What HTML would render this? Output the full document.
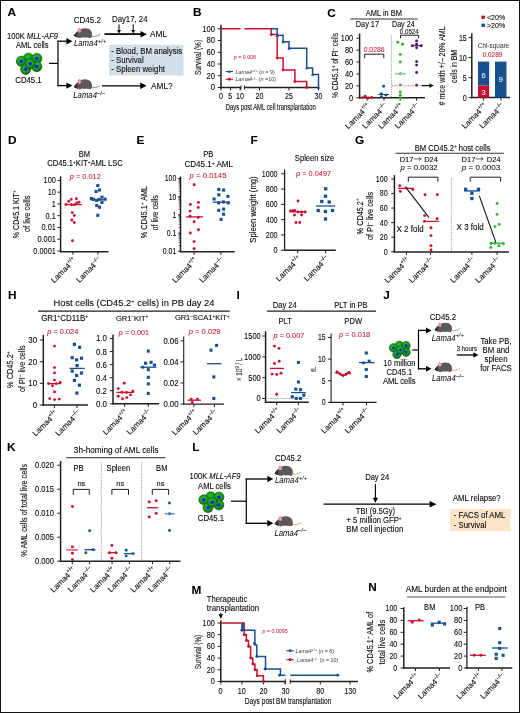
<!DOCTYPE html>
<html><head><meta charset="utf-8"><style>
html,body{margin:0;padding:0;background:#fff;}
body{width:520px;height:713px;overflow:hidden;position:relative;}
svg{display:block;position:absolute;left:0;top:0;will-change:transform;}
text{stroke:#231f20;stroke-width:0.1px;}
text[font-style="italic"]{stroke-width:0;}
text[fill="#c8102e"]{stroke:#c8102e;}
text[fill="#fff"]{stroke:#fff;}
text[fill="#000"]{stroke:#000;}
text[fill="#444"]{stroke:#444;}
.frame{position:absolute;left:0;top:0;width:518px;height:711px;border:1px solid #111;}
</style></head><body>
<svg width="520" height="713" viewBox="0 0 520 713" font-family='"Liberation Sans", sans-serif'>
<defs><radialGradient id="cg" cx="0.45" cy="0.4" r="0.6"><stop offset="0" stop-color="#2ec42e"/><stop offset="0.55" stop-color="#1a9c1a"/><stop offset="0.85" stop-color="#0f7a0f"/><stop offset="1" stop-color="#0a5f0a"/></radialGradient><radialGradient id="ng"><stop offset="0" stop-color="#1010ff"/><stop offset="0.7" stop-color="#1a22f0"/><stop offset="1" stop-color="#1f5fb0"/></radialGradient></defs>
<rect x="0.00" y="0.00" width="520.00" height="713.00" fill="#fff"/>
<text x="7.50" y="16.30" font-size="11.8" fill="#000" font-weight="bold">A</text>
<text x="32.50" y="39.20" font-size="8.21" textLength="51.09" lengthAdjust="spacingAndGlyphs" text-anchor="middle">100K <tspan font-style="italic">MLL-AF9</tspan></text>
<text x="32.30" y="48.20" font-size="8.21" textLength="32.64" lengthAdjust="spacingAndGlyphs" text-anchor="middle">AML cells</text>
<g transform="translate(16.00 53.50) scale(1.0)">
<circle cx="12.5" cy="4.7" r="5.2" fill="url(#cg)" stroke="#0a5a0a" stroke-width="0.5"/>
<circle cx="5.4" cy="7.7" r="5.2" fill="url(#cg)" stroke="#0a5a0a" stroke-width="0.5"/>
<circle cx="5.4" cy="7.7" r="1.9" fill="url(#ng)"/>
<circle cx="20.8" cy="5" r="5.2" fill="url(#cg)" stroke="#0a5a0a" stroke-width="0.5"/>
<circle cx="20.8" cy="5" r="1.9" fill="url(#ng)"/>
<circle cx="9.7" cy="15.7" r="5.2" fill="url(#cg)" stroke="#0a5a0a" stroke-width="0.5"/>
<circle cx="9.7" cy="15.7" r="1.9" fill="url(#ng)"/>
<circle cx="20.8" cy="13" r="5.2" fill="url(#cg)" stroke="#0a5a0a" stroke-width="0.5"/>
<circle cx="20.8" cy="13" r="1.9" fill="url(#ng)"/>
<circle cx="14.1" cy="10.2" r="5.2" fill="url(#cg)" stroke="#0a5a0a" stroke-width="0.5"/>
<circle cx="14.1" cy="10.2" r="1.9" fill="url(#ng)"/>
</g>
<text x="28.50" y="83.00" font-size="8.42" textLength="26.44" lengthAdjust="spacingAndGlyphs" text-anchor="middle">CD45.1</text>
<line x1="49.00" y1="63.40" x2="58.00" y2="63.40" stroke="#000" stroke-width="1.2"/>
<line x1="58.00" y1="40.80" x2="58.00" y2="86.20" stroke="#000" stroke-width="1.2"/>
<line x1="57.40" y1="41.20" x2="66.90" y2="41.20" stroke="#000" stroke-width="1.3"/>
<path d="M66.40,38.00 L72.40,41.20 L66.40,44.40 Z" fill="#000"/>
<line x1="57.40" y1="85.60" x2="66.90" y2="85.60" stroke="#000" stroke-width="1.3"/>
<path d="M66.40,82.40 L72.40,85.60 L66.40,88.80 Z" fill="#000"/>
<text x="87.30" y="23.00" font-size="8.64" textLength="27.12" lengthAdjust="spacingAndGlyphs" text-anchor="middle">CD45.2</text>
<g transform="translate(74.00 35.60) scale(1.0)"><path d="M17.6,0.6 C20,1.3 23,0.9 26.2,-1.3" stroke="#6a6a6a" stroke-width="0.75" fill="none"/><path d="M0,0 C0.8,-1.6 2.2,-3.4 4.2,-4.8 C6.5,-7.2 11,-8.2 14.5,-6.8 C17.5,-5.5 18.5,-2.5 18,0.5 C17.8,1.6 16.8,2 15.5,2 L4.5,2 C2.5,1.8 0.8,1 0,0 Z" fill="#5a5a5c"/><path d="M0,0 C0.8,-1.6 2,-3 3.4,-3.9 C3.0,-2 3.2,0.2 4.0,1.9 C2.2,1.7 0.7,1 0,0 Z" fill="#333335"/><ellipse cx="5.4" cy="-5.3" rx="1.7" ry="2.4" transform="rotate(-12 5.4 -5.3)" fill="#e58b97"/><ellipse cx="5.6" cy="-5.0" rx="1.0" ry="1.5" fill="#f2aab4"/><circle cx="0.3" cy="0" r="0.55" fill="#111"/><ellipse cx="5.8" cy="2.0" rx="1.5" ry="0.65" fill="#a8383e"/><ellipse cx="16.0" cy="1.8" rx="1.5" ry="0.65" fill="#a8383e"/></g>
<text x="74.00" y="45.80" font-size="8.21" textLength="32.03" lengthAdjust="spacingAndGlyphs" font-style="italic">Lama4<tspan font-size="6.08" dy="-3.12">+/+</tspan></text>
<line x1="104.60" y1="34.20" x2="141.50" y2="34.20" stroke="#000" stroke-width="1.3"/>
<line x1="104.60" y1="34.20" x2="141.00" y2="34.20" stroke="#000" stroke-width="1.3"/>
<path d="M140.50,31.00 L147.00,34.20 L140.50,37.40 Z" fill="#000"/>
<line x1="119.00" y1="24.30" x2="119.00" y2="30.60" stroke="#000" stroke-width="1.0"/>
<path d="M117.00,30.10 L119.00,33.60 L121.00,30.10 Z" fill="#000"/>
<line x1="133.20" y1="24.30" x2="133.20" y2="30.60" stroke="#000" stroke-width="1.0"/>
<path d="M131.20,30.10 L133.20,33.60 L135.20,30.10 Z" fill="#000"/>
<text x="112.00" y="22.30" font-size="8.42" textLength="35.55" lengthAdjust="spacingAndGlyphs">Day17, 24</text>
<text x="150.00" y="37.20" font-size="8.96" textLength="17.06" lengthAdjust="spacingAndGlyphs">AML</text>
<rect x="109.00" y="44.80" width="74.60" height="30.70" fill="#d3dfe8"/>
<text x="111.20" y="53.50" font-size="8.42" textLength="71.08" lengthAdjust="spacingAndGlyphs">- Blood, BM analysis</text>
<text x="111.20" y="62.70" font-size="8.42" textLength="32.50" lengthAdjust="spacingAndGlyphs">- Survival</text>
<text x="111.20" y="72.00" font-size="8.42" textLength="53.75" lengthAdjust="spacingAndGlyphs">- Spleen weight</text>
<g transform="translate(74.00 86.80) scale(1.0)"><path d="M17.6,0.6 C20,1.3 23,0.9 26.2,-1.3" stroke="#6a6a6a" stroke-width="0.75" fill="none"/><path d="M0,0 C0.8,-1.6 2.2,-3.4 4.2,-4.8 C6.5,-7.2 11,-8.2 14.5,-6.8 C17.5,-5.5 18.5,-2.5 18,0.5 C17.8,1.6 16.8,2 15.5,2 L4.5,2 C2.5,1.8 0.8,1 0,0 Z" fill="#5a5a5c"/><path d="M0,0 C0.8,-1.6 2,-3 3.4,-3.9 C3.0,-2 3.2,0.2 4.0,1.9 C2.2,1.7 0.7,1 0,0 Z" fill="#333335"/><ellipse cx="5.4" cy="-5.3" rx="1.7" ry="2.4" transform="rotate(-12 5.4 -5.3)" fill="#e58b97"/><ellipse cx="5.6" cy="-5.0" rx="1.0" ry="1.5" fill="#f2aab4"/><circle cx="0.3" cy="0" r="0.55" fill="#111"/><ellipse cx="5.8" cy="2.0" rx="1.5" ry="0.65" fill="#a8383e"/><ellipse cx="16.0" cy="1.8" rx="1.5" ry="0.65" fill="#a8383e"/></g>
<text x="73.30" y="98.30" font-size="8.21" textLength="31.69" lengthAdjust="spacingAndGlyphs" font-style="italic">Lama4<tspan font-size="6.08" dy="-3.12">–/–</tspan></text>
<line x1="102.00" y1="85.80" x2="140.70" y2="85.80" stroke="#000" stroke-width="1.3"/>
<path d="M140.20,82.60 L146.70,85.80 L140.20,89.00 Z" fill="#000"/>
<text x="151.00" y="89.30" font-size="8.96" textLength="21.69" lengthAdjust="spacingAndGlyphs">AML?</text>
<text x="193.00" y="16.40" font-size="11.8" fill="#000" font-weight="bold">B</text>
<line x1="221.00" y1="24.70" x2="221.00" y2="88.25" stroke="#231f20" stroke-width="1.5"/>
<line x1="217.80" y1="28.75" x2="221.00" y2="28.75" stroke="#231f20" stroke-width="1"/>
<text x="215.00" y="31.69" font-size="8.4" text-anchor="end" textLength="12.68" lengthAdjust="spacingAndGlyphs">100</text>
<line x1="217.80" y1="40.50" x2="221.00" y2="40.50" stroke="#231f20" stroke-width="1"/>
<text x="215.00" y="43.44" font-size="8.4" text-anchor="end" textLength="8.45" lengthAdjust="spacingAndGlyphs">80</text>
<line x1="217.80" y1="52.25" x2="221.00" y2="52.25" stroke="#231f20" stroke-width="1"/>
<text x="215.00" y="55.19" font-size="8.4" text-anchor="end" textLength="8.45" lengthAdjust="spacingAndGlyphs">60</text>
<line x1="217.80" y1="64.00" x2="221.00" y2="64.00" stroke="#231f20" stroke-width="1"/>
<text x="215.00" y="66.94" font-size="8.4" text-anchor="end" textLength="8.45" lengthAdjust="spacingAndGlyphs">40</text>
<line x1="217.80" y1="75.75" x2="221.00" y2="75.75" stroke="#231f20" stroke-width="1"/>
<text x="215.00" y="78.69" font-size="8.4" text-anchor="end" textLength="8.45" lengthAdjust="spacingAndGlyphs">20</text>
<line x1="217.80" y1="87.50" x2="221.00" y2="87.50" stroke="#231f20" stroke-width="1"/>
<text x="215.00" y="90.44" font-size="8.4" text-anchor="end" textLength="4.23" lengthAdjust="spacingAndGlyphs">0</text>
<line x1="220.30" y1="87.50" x2="241.00" y2="87.50" stroke="#231f20" stroke-width="1.5"/>
<line x1="244.50" y1="87.50" x2="319.20" y2="87.50" stroke="#231f20" stroke-width="1.5"/>
<line x1="221.00" y1="87.50" x2="221.00" y2="90.50" stroke="#231f20" stroke-width="1"/>
<line x1="230.50" y1="87.50" x2="230.50" y2="90.50" stroke="#231f20" stroke-width="1"/>
<line x1="240.20" y1="87.50" x2="240.20" y2="90.50" stroke="#231f20" stroke-width="1"/>
<line x1="259.50" y1="87.50" x2="259.50" y2="90.50" stroke="#231f20" stroke-width="1"/>
<line x1="289.00" y1="87.50" x2="289.00" y2="90.50" stroke="#231f20" stroke-width="1"/>
<line x1="318.50" y1="87.50" x2="318.50" y2="90.50" stroke="#231f20" stroke-width="1"/>
<line x1="241.00" y1="85.50" x2="241.00" y2="89.50" stroke="#231f20" stroke-width="1"/>
<line x1="244.50" y1="85.50" x2="244.50" y2="89.50" stroke="#231f20" stroke-width="1"/>
<text x="221.00" y="98.60" font-size="8.5" text-anchor="middle" textLength="3.95" lengthAdjust="spacingAndGlyphs">0</text>
<text x="230.30" y="98.60" font-size="8.5" text-anchor="middle" textLength="3.95" lengthAdjust="spacingAndGlyphs">5</text>
<text x="240.00" y="98.60" font-size="8.5" text-anchor="middle" textLength="7.90" lengthAdjust="spacingAndGlyphs">10</text>
<text x="259.50" y="98.60" font-size="8.5" text-anchor="middle" textLength="7.90" lengthAdjust="spacingAndGlyphs">20</text>
<text x="289.00" y="98.60" font-size="8.5" text-anchor="middle" textLength="7.90" lengthAdjust="spacingAndGlyphs">25</text>
<text x="318.50" y="98.60" font-size="8.5" text-anchor="middle" textLength="7.90" lengthAdjust="spacingAndGlyphs">30</text>
<text x="225.70" y="110.00" font-size="9.2" textLength="90" lengthAdjust="spacingAndGlyphs">Days post AML cell transplantation</text>
<text x="200.80" y="57.50" font-size="9.3" text-anchor="middle" textLength="35.2" lengthAdjust="spacingAndGlyphs" transform="rotate(-90 200.80 57.50)">Survival (%)</text>
<path d="M221,28.75 L240.5,28.75 M244.5,28.75 L271.30,28.75 L271.30,34.62 L277.20,34.62 L277.20,58.12 L283.10,58.12 L283.10,69.88 L294.90,69.88 L294.90,81.62 L306.70,81.62 L306.70,87.50" stroke="#c8102e" stroke-width="1.5" fill="none"/>
<path d="M271.30,28.75 L277.20,28.75 L277.20,35.27 L283.10,35.27 L283.10,41.79 L289.00,41.79 L289.00,48.31 L306.70,48.31 L306.70,67.94 L312.60,67.94 L312.60,74.46 L318.50,74.46 L318.50,87.50" stroke="#19508f" stroke-width="1.5" fill="none"/>
<circle cx="271.30" cy="34.62" r="1.45" fill="#c8102e"/>
<circle cx="277.20" cy="58.12" r="1.45" fill="#c8102e"/>
<circle cx="283.10" cy="69.88" r="1.45" fill="#c8102e"/>
<circle cx="294.90" cy="81.62" r="1.45" fill="#c8102e"/>
<circle cx="306.70" cy="87.50" r="1.45" fill="#c8102e"/>
<path d="M275.50,36.63 L277.20,33.57 L278.90,36.63 Z" fill="#19508f"/>
<path d="M281.40,43.15 L283.10,40.09 L284.80,43.15 Z" fill="#19508f"/>
<path d="M287.30,49.67 L289.00,46.61 L290.70,49.67 Z" fill="#19508f"/>
<path d="M305.00,69.30 L306.70,66.24 L308.40,69.30 Z" fill="#19508f"/>
<path d="M310.90,75.82 L312.60,72.76 L314.30,75.82 Z" fill="#19508f"/>
<path d="M316.80,88.86 L318.50,85.80 L320.20,88.86 Z" fill="#19508f"/>
<text x="234.00" y="58.80" font-size="5.62" textLength="21.80" lengthAdjust="spacingAndGlyphs" fill="#c8102e" style="stroke-width:0"><tspan font-style="italic">p</tspan> = 0.008</text>
<line x1="225.70" y1="71.50" x2="233.00" y2="71.50" stroke="#19508f" stroke-width="1.1"/>
<path d="M227.90,72.70 L229.40,70.00 L230.90,72.70 Z" fill="#19508f"/>
<line x1="225.70" y1="79.30" x2="233.00" y2="79.30" stroke="#c8102e" stroke-width="1.1"/>
<circle cx="229.40" cy="79.30" r="1.45" fill="#c8102e"/>
<text x="235.5" y="73.5" font-size="5.4" fill="#3a3a3a" style="stroke-width:0"><tspan font-style="italic">Lama4</tspan><tspan font-size="3.8" dy="-1.8">+/+</tspan><tspan dy="1.8"> (</tspan><tspan font-style="italic">n</tspan> = 9)</text>
<text x="235.5" y="81.3" font-size="5.4" fill="#3a3a3a" style="stroke-width:0"><tspan font-style="italic">Lama4</tspan><tspan font-size="3.8" dy="-1.8">–/–</tspan><tspan dy="1.8"> (</tspan><tspan font-style="italic">n</tspan> =10)</text>
<text x="327.20" y="16.60" font-size="11.8" fill="#000" font-weight="bold">C</text>
<text x="383.90" y="16.30" font-size="8.4" text-anchor="middle" textLength="36.2" lengthAdjust="spacingAndGlyphs">AML in BM</text>
<line x1="350.30" y1="19.00" x2="417.80" y2="19.00" stroke="#333" stroke-width="1.1"/>
<text x="367.40" y="27.00" font-size="8.4" text-anchor="middle" textLength="23.3" lengthAdjust="spacingAndGlyphs">Day 17</text>
<text x="403.30" y="26.70" font-size="8.4" text-anchor="middle" textLength="22.6" lengthAdjust="spacingAndGlyphs">Day 24</text>
<line x1="359.60" y1="33.50" x2="359.60" y2="98.45" stroke="#231f20" stroke-width="1.5"/>
<line x1="356.40" y1="38.30" x2="359.60" y2="38.30" stroke="#231f20" stroke-width="1"/>
<text x="353.20" y="41.24" font-size="8.4" text-anchor="end" textLength="12.34" lengthAdjust="spacingAndGlyphs">100</text>
<line x1="356.40" y1="50.18" x2="359.60" y2="50.18" stroke="#231f20" stroke-width="1"/>
<text x="353.20" y="53.12" font-size="8.4" text-anchor="end" textLength="8.23" lengthAdjust="spacingAndGlyphs">80</text>
<line x1="356.40" y1="62.06" x2="359.60" y2="62.06" stroke="#231f20" stroke-width="1"/>
<text x="353.20" y="65.00" font-size="8.4" text-anchor="end" textLength="8.23" lengthAdjust="spacingAndGlyphs">60</text>
<line x1="356.40" y1="73.94" x2="359.60" y2="73.94" stroke="#231f20" stroke-width="1"/>
<text x="353.20" y="76.88" font-size="8.4" text-anchor="end" textLength="8.23" lengthAdjust="spacingAndGlyphs">40</text>
<line x1="356.40" y1="85.82" x2="359.60" y2="85.82" stroke="#231f20" stroke-width="1"/>
<text x="353.20" y="88.76" font-size="8.4" text-anchor="end" textLength="8.23" lengthAdjust="spacingAndGlyphs">20</text>
<line x1="356.40" y1="97.70" x2="359.60" y2="97.70" stroke="#231f20" stroke-width="1"/>
<text x="353.20" y="100.64" font-size="8.4" text-anchor="end" textLength="4.11" lengthAdjust="spacingAndGlyphs">0</text>
<line x1="359.05" y1="97.70" x2="425.00" y2="97.70" stroke="#231f20" stroke-width="1.5"/>
<line x1="367.00" y1="97.70" x2="367.00" y2="100.70" stroke="#231f20" stroke-width="1"/>
<line x1="384.00" y1="97.70" x2="384.00" y2="100.70" stroke="#231f20" stroke-width="1"/>
<line x1="400.20" y1="97.70" x2="400.20" y2="100.70" stroke="#231f20" stroke-width="1"/>
<line x1="416.50" y1="97.70" x2="416.50" y2="100.70" stroke="#231f20" stroke-width="1"/>
<line x1="391.40" y1="35.00" x2="391.40" y2="97.00" stroke="#777" stroke-width="0.75" stroke-dasharray="0.9 0.9"/>
<text x="338.30" y="65.50" font-size="9" text-anchor="middle" textLength="65" lengthAdjust="spacingAndGlyphs" transform="rotate(-90 338.30 65.50)">% CD45.1<tspan font-size="5.8" dy="-3">+</tspan><tspan dy="3"> of PI</tspan><tspan font-size="5.8" dy="-3">–</tspan><tspan dy="3"> cells</tspan></text>
<circle cx="362.40" cy="97.60" r="1.45" fill="#c8102e"/>
<circle cx="365.20" cy="96.20" r="1.45" fill="#c8102e"/>
<circle cx="368.10" cy="98.00" r="1.45" fill="#c8102e"/>
<circle cx="371.60" cy="97.40" r="1.45" fill="#c8102e"/>
<circle cx="383.60" cy="86.20" r="1.45" fill="#19508f"/>
<circle cx="381.40" cy="93.80" r="1.45" fill="#19508f"/>
<circle cx="385.90" cy="95.10" r="1.45" fill="#19508f"/>
<circle cx="381.40" cy="96.80" r="1.45" fill="#19508f"/>
<line x1="378.20" y1="94.50" x2="388.90" y2="94.50" stroke="#19508f" stroke-width="1.1"/>
<circle cx="397.90" cy="42.30" r="1.45" fill="#2cb52c"/>
<circle cx="402.40" cy="44.30" r="1.45" fill="#2cb52c"/>
<circle cx="400.30" cy="54.40" r="1.45" fill="#2cb52c"/>
<circle cx="400.30" cy="62.00" r="1.45" fill="#2cb52c"/>
<circle cx="400.30" cy="73.80" r="1.45" fill="#2cb52c"/>
<circle cx="400.30" cy="84.90" r="1.45" fill="#2cb52c"/>
<circle cx="400.30" cy="92.00" r="1.45" fill="#2cb52c"/>
<circle cx="400.30" cy="95.20" r="1.45" fill="#2cb52c"/>
<circle cx="400.30" cy="97.90" r="1.45" fill="#2cb52c"/>
<line x1="394.50" y1="73.80" x2="406.00" y2="73.80" stroke="#7fd47f" stroke-width="1.3"/>
<circle cx="416.60" cy="40.90" r="1.45" fill="#4b176b"/>
<circle cx="416.60" cy="44.30" r="1.45" fill="#4b176b"/>
<circle cx="412.40" cy="45.70" r="1.45" fill="#4b176b"/>
<circle cx="421.20" cy="45.70" r="1.45" fill="#4b176b"/>
<circle cx="416.60" cy="47.70" r="1.45" fill="#4b176b"/>
<circle cx="416.60" cy="61.60" r="1.45" fill="#4b176b"/>
<circle cx="416.60" cy="65.10" r="1.45" fill="#4b176b"/>
<circle cx="416.60" cy="72.50" r="1.45" fill="#4b176b"/>
<circle cx="416.60" cy="85.30" r="1.45" fill="#4b176b"/>
<line x1="411.50" y1="45.70" x2="422.30" y2="45.70" stroke="#4b176b" stroke-width="1.1"/>
<line x1="392.00" y1="85.80" x2="421.80" y2="85.80" stroke="#e0607a" stroke-width="1.0" stroke-dasharray="1 0.8"/>
<line x1="421.80" y1="85.60" x2="429.80" y2="85.60" stroke="#000" stroke-width="1.2"/>
<path d="M429.30,83.40 L433.80,85.60 L429.30,87.80 Z" fill="#000"/>
<text x="374.10" y="52.30" font-size="7.34" textLength="20.80" lengthAdjust="spacingAndGlyphs" text-anchor="middle" fill="#c8102e" style="stroke-width:0.04">0.0286</text>
<path d="M364.60,58.20 L364.60,54.20 L383.80,54.20 L383.80,58.20" stroke="#231f20" stroke-width="1.0" fill="none"/>
<text x="409.30" y="33.80" font-size="6.7" textLength="18.94" lengthAdjust="spacingAndGlyphs" text-anchor="middle" style="stroke-width:0.04">0.0524</text>
<path d="M400.50,38.40 L400.50,35.20 L418.60,35.20 L418.60,38.40" stroke="#231f20" stroke-width="1.0" fill="none"/>
<text x="371.00" y="106.70" font-size="7.9" text-anchor="end" transform="rotate(-45 371.00 106.70)">Lama4<tspan font-size="5.53" dy="-3.56">+/+</tspan></text>
<text x="388.00" y="106.70" font-size="7.9" text-anchor="end" transform="rotate(-45 388.00 106.70)">Lama4<tspan font-size="5.53" dy="-3.56">–/–</tspan></text>
<text x="404.20" y="106.70" font-size="7.9" text-anchor="end" transform="rotate(-45 404.20 106.70)">Lama4<tspan font-size="5.53" dy="-3.56">+/+</tspan></text>
<text x="420.50" y="106.70" font-size="7.9" text-anchor="end" transform="rotate(-45 420.50 106.70)">Lama4<tspan font-size="5.53" dy="-3.56">–/–</tspan></text>
<line x1="471.80" y1="33.20" x2="471.80" y2="98.35" stroke="#231f20" stroke-width="1.5"/>
<line x1="468.60" y1="37.60" x2="471.80" y2="37.60" stroke="#231f20" stroke-width="1"/>
<text x="466.80" y="40.54" font-size="8.4" text-anchor="end" textLength="7.90" lengthAdjust="spacingAndGlyphs">15</text>
<line x1="468.60" y1="57.60" x2="471.80" y2="57.60" stroke="#231f20" stroke-width="1"/>
<text x="466.80" y="60.54" font-size="8.4" text-anchor="end" textLength="7.90" lengthAdjust="spacingAndGlyphs">10</text>
<line x1="468.60" y1="77.60" x2="471.80" y2="77.60" stroke="#231f20" stroke-width="1"/>
<text x="466.80" y="80.54" font-size="8.4" text-anchor="end" textLength="3.95" lengthAdjust="spacingAndGlyphs">5</text>
<line x1="468.60" y1="97.60" x2="471.80" y2="97.60" stroke="#231f20" stroke-width="1"/>
<text x="466.80" y="100.54" font-size="8.4" text-anchor="end" textLength="3.95" lengthAdjust="spacingAndGlyphs">0</text>
<line x1="471.05" y1="97.60" x2="510.00" y2="97.60" stroke="#231f20" stroke-width="1.5"/>
<line x1="483.60" y1="97.60" x2="483.60" y2="100.60" stroke="#231f20" stroke-width="1"/>
<line x1="501.00" y1="97.60" x2="501.00" y2="100.60" stroke="#231f20" stroke-width="1"/>
<rect x="478.00" y="61.60" width="11.20" height="24.00" fill="#19508f"/>
<rect x="478.00" y="85.60" width="11.20" height="12.00" fill="#c8102e"/>
<rect x="495.00" y="61.60" width="11.50" height="36.00" fill="#19508f"/>
<text x="483.60" y="77.60" font-size="8.1" textLength="4.17" lengthAdjust="spacingAndGlyphs" text-anchor="middle" fill="#fff" style="stroke-width:0.04">6</text>
<text x="500.80" y="82.30" font-size="8.1" textLength="4.17" lengthAdjust="spacingAndGlyphs" text-anchor="middle" fill="#fff" style="stroke-width:0.04">9</text>
<text x="483.60" y="94.60" font-size="8.1" textLength="4.17" lengthAdjust="spacingAndGlyphs" text-anchor="middle" fill="#fff" style="stroke-width:0.04">3</text>
<rect x="481.40" y="15.70" width="3.60" height="3.20" fill="#c8102e"/>
<rect x="481.40" y="23.70" width="3.60" height="3.20" fill="#19508f"/>
<text x="487.00" y="19.70" font-size="7.56" textLength="18.11" lengthAdjust="spacingAndGlyphs">&lt;20%</text>
<text x="487.00" y="27.50" font-size="7.56" textLength="18.11" lengthAdjust="spacingAndGlyphs">&gt;20%</text>
<text x="493.50" y="47.90" font-size="6.91" textLength="31.27" lengthAdjust="spacingAndGlyphs" text-anchor="middle" fill="#3a3a3a" style="stroke-width:0.04">Chi-square</text>
<text x="492.50" y="57.20" font-size="6.91" textLength="19.55" lengthAdjust="spacingAndGlyphs" text-anchor="middle" fill="#c8102e" style="stroke-width:0.04">0.0289</text>
<text x="445.50" y="65.90" font-size="9" text-anchor="middle" textLength="79" lengthAdjust="spacingAndGlyphs" transform="rotate(-90 445.50 65.90)"># mice with +/– 20% AML</text>
<text x="456.70" y="66.50" font-size="9" text-anchor="middle" textLength="33" lengthAdjust="spacingAndGlyphs" transform="rotate(-90 456.70 66.50)">cells in BM</text>
<text x="487.60" y="106.60" font-size="7.9" text-anchor="end" transform="rotate(-45 487.60 106.60)">Lama4<tspan font-size="5.53" dy="-3.56">+/+</tspan></text>
<text x="505.00" y="106.60" font-size="7.9" text-anchor="end" transform="rotate(-45 505.00 106.60)">Lama4<tspan font-size="5.53" dy="-3.56">–/–</tspan></text>
<text x="8.00" y="144.10" font-size="11.8" fill="#000" font-weight="bold">D</text>
<text x="84.40" y="156.70" font-size="8.21" textLength="11.39" lengthAdjust="spacingAndGlyphs" text-anchor="middle">BM</text>
<text x="85.00" y="166.30" font-size="8.21" textLength="75.64" lengthAdjust="spacingAndGlyphs" text-anchor="middle">CD45.1<tspan font-size="5" dy="-2.6">+</tspan><tspan dy="2.6">KIT</tspan><tspan font-size="5" dy="-2.6">+</tspan><tspan dy="2.6">AML LSC</tspan></text>
<text x="85.30" y="178.50" font-size="8.1" text-anchor="middle" fill="#c8102e" textLength="31.0" lengthAdjust="spacingAndGlyphs" style="stroke-width:0.05"><tspan font-style="italic">p</tspan> = 0.012</text>
<line x1="60.60" y1="176.40" x2="60.60" y2="251.75" stroke="#231f20" stroke-width="1.5"/>
<line x1="57.40" y1="180.38" x2="60.60" y2="180.38" stroke="#231f20" stroke-width="1"/>
<text x="55.90" y="183.32" font-size="8.4" text-anchor="end" textLength="12.34" lengthAdjust="spacingAndGlyphs">100</text>
<line x1="57.40" y1="192.15" x2="60.60" y2="192.15" stroke="#231f20" stroke-width="1"/>
<text x="55.90" y="195.09" font-size="8.4" text-anchor="end" textLength="8.23" lengthAdjust="spacingAndGlyphs">10</text>
<line x1="57.40" y1="203.92" x2="60.60" y2="203.92" stroke="#231f20" stroke-width="1"/>
<text x="55.90" y="206.86" font-size="8.4" text-anchor="end" textLength="4.11" lengthAdjust="spacingAndGlyphs">1</text>
<line x1="57.40" y1="215.69" x2="60.60" y2="215.69" stroke="#231f20" stroke-width="1"/>
<text x="55.90" y="218.63" font-size="8.4" text-anchor="end" textLength="10.29" lengthAdjust="spacingAndGlyphs">0.1</text>
<line x1="57.40" y1="227.46" x2="60.60" y2="227.46" stroke="#231f20" stroke-width="1"/>
<text x="55.90" y="230.40" font-size="8.4" text-anchor="end" textLength="14.40" lengthAdjust="spacingAndGlyphs">0.01</text>
<line x1="57.40" y1="239.23" x2="60.60" y2="239.23" stroke="#231f20" stroke-width="1"/>
<text x="55.90" y="242.17" font-size="8.4" text-anchor="end" textLength="18.51" lengthAdjust="spacingAndGlyphs">0.001</text>
<line x1="57.40" y1="251.00" x2="60.60" y2="251.00" stroke="#231f20" stroke-width="1"/>
<text x="55.90" y="253.94" font-size="8.4" text-anchor="end" textLength="22.63" lengthAdjust="spacingAndGlyphs">0.0001</text>
<line x1="59.85" y1="251.70" x2="108.50" y2="251.70" stroke="#231f20" stroke-width="1.5"/>
<line x1="72.90" y1="251.70" x2="72.90" y2="254.70" stroke="#231f20" stroke-width="1"/>
<line x1="97.90" y1="251.70" x2="97.90" y2="254.70" stroke="#231f20" stroke-width="1"/>
<text x="18.80" y="214.30" font-size="9" text-anchor="middle" textLength="47.8" lengthAdjust="spacingAndGlyphs" transform="rotate(-90 18.80 214.30)">% CD45.1 KIT<tspan font-size="5.8" dy="-3">+</tspan></text>
<text x="30.50" y="213.80" font-size="9" text-anchor="middle" textLength="36.4" lengthAdjust="spacingAndGlyphs" transform="rotate(-90 30.50 213.80)">of live cells</text>
<circle cx="71.20" cy="199.40" r="1.45" fill="#c8102e"/>
<circle cx="76.40" cy="198.70" r="1.45" fill="#c8102e"/>
<circle cx="68.60" cy="201.40" r="1.45" fill="#c8102e"/>
<circle cx="79.10" cy="202.10" r="1.45" fill="#c8102e"/>
<circle cx="76.80" cy="203.00" r="1.45" fill="#c8102e"/>
<circle cx="66.00" cy="204.40" r="1.45" fill="#c8102e"/>
<circle cx="71.40" cy="204.80" r="1.45" fill="#c8102e"/>
<circle cx="74.60" cy="204.80" r="1.45" fill="#c8102e"/>
<circle cx="72.20" cy="212.60" r="1.45" fill="#c8102e"/>
<circle cx="74.30" cy="215.50" r="1.45" fill="#c8102e"/>
<circle cx="71.80" cy="220.00" r="1.45" fill="#c8102e"/>
<circle cx="74.20" cy="222.50" r="1.45" fill="#c8102e"/>
<circle cx="72.50" cy="240.80" r="1.45" fill="#c8102e"/>
<line x1="64.70" y1="204.60" x2="81.80" y2="204.60" stroke="#c8102e" stroke-width="1.3"/>
<rect x="96.25" y="183.95" width="3.1" height="3.1" fill="#19508f"/>
<rect x="97.95" y="188.45" width="3.1" height="3.1" fill="#19508f"/>
<rect x="94.55" y="189.95" width="3.1" height="3.1" fill="#19508f"/>
<rect x="89.75" y="196.95" width="3.1" height="3.1" fill="#19508f"/>
<rect x="92.05" y="197.75" width="3.1" height="3.1" fill="#19508f"/>
<rect x="95.15" y="198.95" width="3.1" height="3.1" fill="#19508f"/>
<rect x="97.65" y="197.75" width="3.1" height="3.1" fill="#19508f"/>
<rect x="100.45" y="195.55" width="3.1" height="3.1" fill="#19508f"/>
<rect x="103.55" y="197.55" width="3.1" height="3.1" fill="#19508f"/>
<rect x="100.45" y="200.85" width="3.1" height="3.1" fill="#19508f"/>
<rect x="95.15" y="203.95" width="3.1" height="3.1" fill="#19508f"/>
<rect x="97.95" y="205.65" width="3.1" height="3.1" fill="#19508f"/>
<rect x="96.25" y="213.75" width="3.1" height="3.1" fill="#19508f"/>
<line x1="90.20" y1="199.80" x2="106.20" y2="199.80" stroke="#19508f" stroke-width="1.3"/>
<text x="76.90" y="260.70" font-size="7.9" text-anchor="end" transform="rotate(-45 76.90 260.70)">Lama4<tspan font-size="5.53" dy="-3.56">+/+</tspan></text>
<text x="101.90" y="260.70" font-size="7.9" text-anchor="end" transform="rotate(-45 101.90 260.70)">Lama4<tspan font-size="5.53" dy="-3.56">–/–</tspan></text>
<text x="136.40" y="143.90" font-size="11.8" fill="#000" font-weight="bold">E</text>
<text x="208.30" y="157.20" font-size="8.21" textLength="10.14" lengthAdjust="spacingAndGlyphs" text-anchor="middle">PB</text>
<text x="208.70" y="167.40" font-size="8.64" textLength="48.58" lengthAdjust="spacingAndGlyphs" text-anchor="middle">CD45.1<tspan font-size="5.5" dy="-2.8">+</tspan><tspan dy="2.8"> AML</tspan></text>
<text x="208.00" y="178.20" font-size="8.1" text-anchor="middle" fill="#c8102e" textLength="37.0" lengthAdjust="spacingAndGlyphs" style="stroke-width:0.05"><tspan font-style="italic">p</tspan> = 0.0145</text>
<line x1="180.50" y1="176.50" x2="180.50" y2="251.95" stroke="#231f20" stroke-width="1.5"/>
<line x1="178.10" y1="178.48" x2="180.50" y2="178.48" stroke="#231f20" stroke-width="1"/>
<text x="176.30" y="181.42" font-size="8.4" text-anchor="end" textLength="11.51" lengthAdjust="spacingAndGlyphs">100</text>
<line x1="178.10" y1="196.66" x2="180.50" y2="196.66" stroke="#231f20" stroke-width="1"/>
<text x="176.30" y="199.60" font-size="8.4" text-anchor="end" textLength="7.67" lengthAdjust="spacingAndGlyphs">10</text>
<line x1="178.10" y1="214.84" x2="180.50" y2="214.84" stroke="#231f20" stroke-width="1"/>
<text x="176.30" y="217.78" font-size="8.4" text-anchor="end" textLength="3.84" lengthAdjust="spacingAndGlyphs">1</text>
<line x1="178.10" y1="233.02" x2="180.50" y2="233.02" stroke="#231f20" stroke-width="1"/>
<text x="176.30" y="235.96" font-size="8.4" text-anchor="end" textLength="9.59" lengthAdjust="spacingAndGlyphs">0.1</text>
<line x1="178.10" y1="251.20" x2="180.50" y2="251.20" stroke="#231f20" stroke-width="1"/>
<text x="176.30" y="254.14" font-size="8.4" text-anchor="end" textLength="13.43" lengthAdjust="spacingAndGlyphs">0.01</text>
<line x1="178.60" y1="245.73" x2="180.50" y2="245.73" stroke="#231f20" stroke-width="0.6"/>
<line x1="178.60" y1="242.53" x2="180.50" y2="242.53" stroke="#231f20" stroke-width="0.6"/>
<line x1="178.60" y1="240.25" x2="180.50" y2="240.25" stroke="#231f20" stroke-width="0.6"/>
<line x1="178.60" y1="238.49" x2="180.50" y2="238.49" stroke="#231f20" stroke-width="0.6"/>
<line x1="178.60" y1="237.05" x2="180.50" y2="237.05" stroke="#231f20" stroke-width="0.6"/>
<line x1="178.60" y1="235.84" x2="180.50" y2="235.84" stroke="#231f20" stroke-width="0.6"/>
<line x1="178.60" y1="234.78" x2="180.50" y2="234.78" stroke="#231f20" stroke-width="0.6"/>
<line x1="178.60" y1="233.85" x2="180.50" y2="233.85" stroke="#231f20" stroke-width="0.6"/>
<line x1="178.60" y1="227.55" x2="180.50" y2="227.55" stroke="#231f20" stroke-width="0.6"/>
<line x1="178.60" y1="224.35" x2="180.50" y2="224.35" stroke="#231f20" stroke-width="0.6"/>
<line x1="178.60" y1="222.07" x2="180.50" y2="222.07" stroke="#231f20" stroke-width="0.6"/>
<line x1="178.60" y1="220.31" x2="180.50" y2="220.31" stroke="#231f20" stroke-width="0.6"/>
<line x1="178.60" y1="218.87" x2="180.50" y2="218.87" stroke="#231f20" stroke-width="0.6"/>
<line x1="178.60" y1="217.66" x2="180.50" y2="217.66" stroke="#231f20" stroke-width="0.6"/>
<line x1="178.60" y1="216.60" x2="180.50" y2="216.60" stroke="#231f20" stroke-width="0.6"/>
<line x1="178.60" y1="215.67" x2="180.50" y2="215.67" stroke="#231f20" stroke-width="0.6"/>
<line x1="178.60" y1="209.37" x2="180.50" y2="209.37" stroke="#231f20" stroke-width="0.6"/>
<line x1="178.60" y1="206.17" x2="180.50" y2="206.17" stroke="#231f20" stroke-width="0.6"/>
<line x1="178.60" y1="203.89" x2="180.50" y2="203.89" stroke="#231f20" stroke-width="0.6"/>
<line x1="178.60" y1="202.13" x2="180.50" y2="202.13" stroke="#231f20" stroke-width="0.6"/>
<line x1="178.60" y1="200.69" x2="180.50" y2="200.69" stroke="#231f20" stroke-width="0.6"/>
<line x1="178.60" y1="199.48" x2="180.50" y2="199.48" stroke="#231f20" stroke-width="0.6"/>
<line x1="178.60" y1="198.42" x2="180.50" y2="198.42" stroke="#231f20" stroke-width="0.6"/>
<line x1="178.60" y1="197.49" x2="180.50" y2="197.49" stroke="#231f20" stroke-width="0.6"/>
<line x1="178.60" y1="191.19" x2="180.50" y2="191.19" stroke="#231f20" stroke-width="0.6"/>
<line x1="178.60" y1="187.99" x2="180.50" y2="187.99" stroke="#231f20" stroke-width="0.6"/>
<line x1="178.60" y1="185.71" x2="180.50" y2="185.71" stroke="#231f20" stroke-width="0.6"/>
<line x1="178.60" y1="183.95" x2="180.50" y2="183.95" stroke="#231f20" stroke-width="0.6"/>
<line x1="178.60" y1="182.51" x2="180.50" y2="182.51" stroke="#231f20" stroke-width="0.6"/>
<line x1="178.60" y1="181.30" x2="180.50" y2="181.30" stroke="#231f20" stroke-width="0.6"/>
<line x1="178.60" y1="180.24" x2="180.50" y2="180.24" stroke="#231f20" stroke-width="0.6"/>
<line x1="178.60" y1="179.31" x2="180.50" y2="179.31" stroke="#231f20" stroke-width="0.6"/>
<line x1="179.75" y1="251.80" x2="234.70" y2="251.80" stroke="#231f20" stroke-width="1.5"/>
<line x1="194.10" y1="251.80" x2="194.10" y2="254.80" stroke="#231f20" stroke-width="1"/>
<line x1="220.90" y1="251.80" x2="220.90" y2="254.80" stroke="#231f20" stroke-width="1"/>
<text x="146.80" y="212.10" font-size="9.2" text-anchor="middle" textLength="52.4" lengthAdjust="spacingAndGlyphs" transform="rotate(-90 146.80 212.10)">% CD45.1<tspan font-size="5.8" dy="-3">+</tspan><tspan dy="3"> AML</tspan></text>
<text x="157.90" y="212.80" font-size="9.2" text-anchor="middle" textLength="35.6" lengthAdjust="spacingAndGlyphs" transform="rotate(-90 157.90 212.80)">of live cells</text>
<circle cx="194.10" cy="184.80" r="1.45" fill="#c8102e"/>
<circle cx="198.40" cy="202.40" r="1.45" fill="#c8102e"/>
<circle cx="190.30" cy="204.40" r="1.45" fill="#c8102e"/>
<circle cx="198.20" cy="207.50" r="1.45" fill="#c8102e"/>
<circle cx="190.10" cy="211.10" r="1.45" fill="#c8102e"/>
<circle cx="190.10" cy="216.20" r="1.45" fill="#c8102e"/>
<circle cx="198.20" cy="217.40" r="1.45" fill="#c8102e"/>
<circle cx="194.10" cy="221.70" r="1.45" fill="#c8102e"/>
<circle cx="198.40" cy="229.70" r="1.45" fill="#c8102e"/>
<circle cx="190.30" cy="233.00" r="1.45" fill="#c8102e"/>
<circle cx="194.10" cy="241.60" r="1.45" fill="#c8102e"/>
<circle cx="194.10" cy="248.70" r="1.45" fill="#c8102e"/>
<line x1="186.00" y1="216.90" x2="203.00" y2="216.90" stroke="#c8102e" stroke-width="1.3"/>
<rect x="217.25" y="187.85" width="3.1" height="3.1" fill="#19508f"/>
<rect x="222.05" y="188.55" width="3.1" height="3.1" fill="#19508f"/>
<rect x="217.25" y="193.25" width="3.1" height="3.1" fill="#19508f"/>
<rect x="226.35" y="194.85" width="3.1" height="3.1" fill="#19508f"/>
<rect x="212.55" y="197.45" width="3.1" height="3.1" fill="#19508f"/>
<rect x="217.15" y="201.35" width="3.1" height="3.1" fill="#19508f"/>
<rect x="221.85" y="200.35" width="3.1" height="3.1" fill="#19508f"/>
<rect x="226.65" y="201.35" width="3.1" height="3.1" fill="#19508f"/>
<rect x="217.15" y="208.75" width="3.1" height="3.1" fill="#19508f"/>
<rect x="222.05" y="207.55" width="3.1" height="3.1" fill="#19508f"/>
<rect x="222.05" y="212.65" width="3.1" height="3.1" fill="#19508f"/>
<rect x="219.55" y="217.85" width="3.1" height="3.1" fill="#19508f"/>
<line x1="212.60" y1="202.20" x2="230.00" y2="202.20" stroke="#19508f" stroke-width="1.3"/>
<text x="198.10" y="260.80" font-size="7.9" text-anchor="end" transform="rotate(-45 198.10 260.80)">Lama4<tspan font-size="5.53" dy="-3.56">+/+</tspan></text>
<text x="224.90" y="260.80" font-size="7.9" text-anchor="end" transform="rotate(-45 224.90 260.80)">Lama4<tspan font-size="5.53" dy="-3.56">–/–</tspan></text>
<text x="250.40" y="143.80" font-size="11.8" fill="#000" font-weight="bold">F</text>
<text x="314.50" y="160.80" font-size="8.21" textLength="39.27" lengthAdjust="spacingAndGlyphs" text-anchor="middle">Spleen size</text>
<text x="313.55" y="175.90" font-size="8.1" text-anchor="middle" fill="#c8102e" textLength="35.1" lengthAdjust="spacingAndGlyphs" style="stroke-width:0.05"><tspan font-style="italic">p</tspan> = 0.0497</text>
<line x1="284.60" y1="169.40" x2="284.60" y2="250.85" stroke="#231f20" stroke-width="1.3"/>
<line x1="281.00" y1="173.80" x2="284.60" y2="173.80" stroke="#231f20" stroke-width="1"/>
<text x="277.60" y="176.74" font-size="8.4" text-anchor="end" textLength="15.90" lengthAdjust="spacingAndGlyphs">1000</text>
<line x1="281.00" y1="189.08" x2="284.60" y2="189.08" stroke="#231f20" stroke-width="1"/>
<text x="277.60" y="192.02" font-size="8.4" text-anchor="end" textLength="11.93" lengthAdjust="spacingAndGlyphs">800</text>
<line x1="281.00" y1="204.36" x2="284.60" y2="204.36" stroke="#231f20" stroke-width="1"/>
<text x="277.60" y="207.30" font-size="8.4" text-anchor="end" textLength="11.93" lengthAdjust="spacingAndGlyphs">600</text>
<line x1="281.00" y1="219.64" x2="284.60" y2="219.64" stroke="#231f20" stroke-width="1"/>
<text x="277.60" y="222.58" font-size="8.4" text-anchor="end" textLength="11.93" lengthAdjust="spacingAndGlyphs">400</text>
<line x1="281.00" y1="234.92" x2="284.60" y2="234.92" stroke="#231f20" stroke-width="1"/>
<text x="277.60" y="237.86" font-size="8.4" text-anchor="end" textLength="11.93" lengthAdjust="spacingAndGlyphs">200</text>
<line x1="281.00" y1="250.20" x2="284.60" y2="250.20" stroke="#231f20" stroke-width="1"/>
<text x="277.60" y="253.14" font-size="8.4" text-anchor="end" textLength="3.98" lengthAdjust="spacingAndGlyphs">0</text>
<line x1="283.90" y1="250.30" x2="335.80" y2="250.30" stroke="#231f20" stroke-width="1.4"/>
<line x1="297.70" y1="250.30" x2="297.70" y2="253.30" stroke="#231f20" stroke-width="1"/>
<line x1="325.60" y1="250.30" x2="325.60" y2="253.30" stroke="#231f20" stroke-width="1"/>
<text x="256.00" y="209.50" font-size="9" text-anchor="middle" textLength="66.3" lengthAdjust="spacingAndGlyphs" transform="rotate(-90 256.00 209.50)">Spleen weight (mg)</text>
<circle cx="298.00" cy="201.00" r="1.45" fill="#c8102e"/>
<circle cx="290.50" cy="211.00" r="1.45" fill="#c8102e"/>
<circle cx="293.00" cy="210.80" r="1.45" fill="#c8102e"/>
<circle cx="294.80" cy="210.50" r="1.45" fill="#c8102e"/>
<circle cx="298.00" cy="212.00" r="1.45" fill="#c8102e"/>
<circle cx="301.50" cy="212.00" r="1.45" fill="#c8102e"/>
<circle cx="305.20" cy="212.00" r="1.45" fill="#c8102e"/>
<circle cx="294.50" cy="215.00" r="1.45" fill="#c8102e"/>
<circle cx="301.50" cy="215.00" r="1.45" fill="#c8102e"/>
<circle cx="296.00" cy="222.50" r="1.45" fill="#c8102e"/>
<circle cx="299.80" cy="222.50" r="1.45" fill="#c8102e"/>
<line x1="290.00" y1="211.80" x2="306.00" y2="211.80" stroke="#c8102e" stroke-width="1.3"/>
<rect x="324.05" y="187.15" width="3.3" height="3.3" fill="#19508f"/>
<rect x="323.85" y="194.55" width="3.3" height="3.3" fill="#19508f"/>
<rect x="320.15" y="199.85" width="3.3" height="3.3" fill="#19508f"/>
<rect x="327.55" y="200.35" width="3.3" height="3.3" fill="#19508f"/>
<rect x="316.55" y="208.85" width="3.3" height="3.3" fill="#19508f"/>
<rect x="323.85" y="209.85" width="3.3" height="3.3" fill="#19508f"/>
<rect x="330.85" y="208.85" width="3.3" height="3.3" fill="#19508f"/>
<rect x="323.85" y="217.35" width="3.3" height="3.3" fill="#19508f"/>
<line x1="316.00" y1="206.00" x2="335.20" y2="206.00" stroke="#19508f" stroke-width="1.3"/>
<text x="301.70" y="259.20" font-size="7.9" text-anchor="end" transform="rotate(-45 301.70 259.20)">Lama4<tspan font-size="5.53" dy="-3.56">+/+</tspan></text>
<text x="329.60" y="259.20" font-size="7.9" text-anchor="end" transform="rotate(-45 329.60 259.20)">Lama4<tspan font-size="5.53" dy="-3.56">–/–</tspan></text>
<text x="355.00" y="143.80" font-size="11.8" fill="#000" font-weight="bold">G</text>
<text x="452.60" y="150.80" font-size="8.21" textLength="75.94" lengthAdjust="spacingAndGlyphs" text-anchor="middle">BM CD45.2<tspan font-size="5" dy="-2.6">+</tspan><tspan dy="2.6"> host cells</tspan></text>
<line x1="395.60" y1="153.30" x2="503.90" y2="153.30" stroke="#333" stroke-width="1.1"/>
<text x="399.70" y="161.50" font-size="8.1" textLength="13.77" lengthAdjust="spacingAndGlyphs">D17</text>
<text x="437.90" y="161.50" font-size="8.1" textLength="13.77" lengthAdjust="spacingAndGlyphs" text-anchor="end">D24</text>
<line x1="413.60" y1="158.90" x2="420.50" y2="158.90" stroke="#231f20" stroke-width="0.7"/>
<path d="M419,157.3 L421.3,158.9 L419,160.5" stroke="#231f20" stroke-width="0.7" fill="none"/>
<text x="419.05" y="169.90" font-size="8.1" text-anchor="middle" textLength="37.3" lengthAdjust="spacingAndGlyphs" style="stroke-width:0.05"><tspan font-style="italic">p</tspan> = 0.0032</text>
<text x="461.60" y="161.50" font-size="8.1" textLength="13.77" lengthAdjust="spacingAndGlyphs">D17</text>
<text x="500.60" y="161.50" font-size="8.1" textLength="13.77" lengthAdjust="spacingAndGlyphs" text-anchor="end">D24</text>
<line x1="475.50" y1="158.90" x2="482.40" y2="158.90" stroke="#231f20" stroke-width="0.7"/>
<path d="M480.9,157.3 L483.2,158.9 L480.9,160.5" stroke="#231f20" stroke-width="0.7" fill="none"/>
<text x="481.10" y="169.90" font-size="8.1" text-anchor="middle" textLength="38.6" lengthAdjust="spacingAndGlyphs" style="stroke-width:0.05"><tspan font-style="italic">p</tspan> = 0.0003</text>
<line x1="394.40" y1="175.20" x2="394.40" y2="252.45" stroke="#231f20" stroke-width="1.5"/>
<line x1="391.20" y1="179.00" x2="394.40" y2="179.00" stroke="#231f20" stroke-width="1"/>
<text x="387.70" y="181.94" font-size="8.4" text-anchor="end" textLength="11.84" lengthAdjust="spacingAndGlyphs">100</text>
<line x1="391.20" y1="193.54" x2="394.40" y2="193.54" stroke="#231f20" stroke-width="1"/>
<text x="387.70" y="196.48" font-size="8.4" text-anchor="end" textLength="7.90" lengthAdjust="spacingAndGlyphs">80</text>
<line x1="391.20" y1="208.08" x2="394.40" y2="208.08" stroke="#231f20" stroke-width="1"/>
<text x="387.70" y="211.02" font-size="8.4" text-anchor="end" textLength="7.90" lengthAdjust="spacingAndGlyphs">60</text>
<line x1="391.20" y1="222.62" x2="394.40" y2="222.62" stroke="#231f20" stroke-width="1"/>
<text x="387.70" y="225.56" font-size="8.4" text-anchor="end" textLength="7.90" lengthAdjust="spacingAndGlyphs">40</text>
<line x1="391.20" y1="237.16" x2="394.40" y2="237.16" stroke="#231f20" stroke-width="1"/>
<text x="387.70" y="240.10" font-size="8.4" text-anchor="end" textLength="7.90" lengthAdjust="spacingAndGlyphs">20</text>
<line x1="391.20" y1="251.70" x2="394.40" y2="251.70" stroke="#231f20" stroke-width="1"/>
<text x="387.70" y="254.64" font-size="8.4" text-anchor="end" textLength="3.95" lengthAdjust="spacingAndGlyphs">0</text>
<line x1="393.65" y1="251.90" x2="509.00" y2="251.90" stroke="#231f20" stroke-width="1.5"/>
<line x1="406.40" y1="251.90" x2="406.40" y2="254.90" stroke="#231f20" stroke-width="1"/>
<line x1="430.60" y1="251.90" x2="430.60" y2="254.90" stroke="#231f20" stroke-width="1"/>
<line x1="471.90" y1="251.90" x2="471.90" y2="254.90" stroke="#231f20" stroke-width="1"/>
<line x1="497.10" y1="251.90" x2="497.10" y2="254.90" stroke="#231f20" stroke-width="1"/>
<line x1="451.40" y1="178.00" x2="451.40" y2="251.00" stroke="#777" stroke-width="0.75" stroke-dasharray="0.9 0.9"/>
<path d="M408.30,181.70 L408.30,177.20 L437.90,177.20 L437.90,181.70" stroke="#231f20" stroke-width="1.0" fill="none"/>
<path d="M470.20,181.70 L470.20,177.20 L500.60,177.20 L500.60,181.70" stroke="#231f20" stroke-width="1.0" fill="none"/>
<text x="362.60" y="216.40" font-size="9.6" text-anchor="middle" textLength="36" lengthAdjust="spacingAndGlyphs" transform="rotate(-90 362.60 216.40)">% CD45.2<tspan font-size="6" dy="-3.2">+</tspan></text>
<text x="373.40" y="216.00" font-size="9.6" text-anchor="middle" textLength="48" lengthAdjust="spacingAndGlyphs" transform="rotate(-90 373.40 216.00)">of PI<tspan font-size="6" dy="-3.2">–</tspan><tspan dy="3.2"> live cells</tspan></text>
<circle cx="399.70" cy="185.80" r="1.45" fill="#c8102e"/>
<circle cx="406.10" cy="187.90" r="1.45" fill="#c8102e"/>
<circle cx="412.90" cy="189.50" r="1.45" fill="#c8102e"/>
<circle cx="400.30" cy="191.40" r="1.45" fill="#c8102e"/>
<line x1="398.20" y1="188.40" x2="414.00" y2="188.40" stroke="#c8102e" stroke-width="1.3"/>
<circle cx="425.00" cy="194.70" r="1.45" fill="#c8102e"/>
<circle cx="437.30" cy="194.70" r="1.45" fill="#c8102e"/>
<circle cx="424.70" cy="215.60" r="1.45" fill="#c8102e"/>
<circle cx="437.10" cy="218.70" r="1.45" fill="#c8102e"/>
<circle cx="424.50" cy="221.40" r="1.45" fill="#c8102e"/>
<circle cx="431.00" cy="227.70" r="1.45" fill="#c8102e"/>
<circle cx="431.00" cy="235.60" r="1.45" fill="#c8102e"/>
<circle cx="431.00" cy="245.80" r="1.45" fill="#c8102e"/>
<circle cx="431.00" cy="250.00" r="1.45" fill="#c8102e"/>
<line x1="423.20" y1="221.40" x2="438.70" y2="221.40" stroke="#c8102e" stroke-width="1.3"/>
<line x1="406.40" y1="188.20" x2="428.90" y2="217.40" stroke="#111" stroke-width="1.1"/>
<text x="396.60" y="231.60" font-size="8.4" textLength="27" lengthAdjust="spacingAndGlyphs">X 2 fold</text>
<rect x="463.95" y="187.65" width="3.3" height="3.3" fill="#19508f"/>
<rect x="476.85" y="187.65" width="3.3" height="3.3" fill="#19508f"/>
<rect x="470.25" y="191.55" width="3.3" height="3.3" fill="#19508f"/>
<rect x="470.25" y="196.85" width="3.3" height="3.3" fill="#19508f"/>
<line x1="464.00" y1="190.90" x2="479.90" y2="190.90" stroke="#19508f" stroke-width="1.4"/>
<circle cx="497.10" cy="203.50" r="1.45" fill="#2cb52c"/>
<circle cx="497.00" cy="214.40" r="1.45" fill="#2cb52c"/>
<circle cx="499.10" cy="224.40" r="1.45" fill="#2cb52c"/>
<circle cx="495.00" cy="226.60" r="1.45" fill="#2cb52c"/>
<circle cx="491.00" cy="243.50" r="1.45" fill="#2cb52c"/>
<circle cx="495.00" cy="243.30" r="1.45" fill="#2cb52c"/>
<circle cx="503.40" cy="243.80" r="1.45" fill="#2cb52c"/>
<circle cx="498.90" cy="245.80" r="1.45" fill="#2cb52c"/>
<circle cx="490.80" cy="247.50" r="1.45" fill="#2cb52c"/>
<line x1="489.90" y1="243.20" x2="504.20" y2="243.20" stroke="#2cb52c" stroke-width="1.3"/>
<line x1="479.30" y1="195.90" x2="495.70" y2="241.90" stroke="#111" stroke-width="1.1"/>
<text x="456.60" y="229.70" font-size="8.4" textLength="27.2" lengthAdjust="spacingAndGlyphs">X 3 fold</text>
<text x="410.40" y="260.90" font-size="7.9" text-anchor="end" transform="rotate(-45 410.40 260.90)">Lama4<tspan font-size="5.53" dy="-3.56">+/+</tspan></text>
<text x="434.60" y="260.90" font-size="7.9" text-anchor="end" transform="rotate(-45 434.60 260.90)">Lama4<tspan font-size="5.53" dy="-3.56">–/–</tspan></text>
<text x="475.90" y="260.90" font-size="7.9" text-anchor="end" transform="rotate(-45 475.90 260.90)">Lama4<tspan font-size="5.53" dy="-3.56">–/–</tspan></text>
<text x="501.10" y="260.90" font-size="7.9" text-anchor="end" transform="rotate(-45 501.10 260.90)">Lama4<tspan font-size="5.53" dy="-3.56">–/–</tspan></text>
<text x="8.00" y="298.80" font-size="11.8" fill="#000" font-weight="bold">H</text>
<text x="134.00" y="306.00" font-size="9.6" text-anchor="middle" textLength="160.9" lengthAdjust="spacingAndGlyphs">Host cells (CD45.2<tspan font-size="6" dy="-3">+</tspan><tspan dy="3"> cells) in PB day 24</tspan></text>
<line x1="38.00" y1="311.10" x2="229.80" y2="311.10" stroke="#231f20" stroke-width="1.1"/>
<text x="64.60" y="320.60" font-size="8.53" textLength="46.94" lengthAdjust="spacingAndGlyphs" text-anchor="middle">GR1<tspan font-size="5" dy="-2.6">+</tspan><tspan dy="2.6">CD11B</tspan><tspan font-size="5" dy="-2.6">+</tspan></text>
<text x="132.10" y="320.80" font-size="7.99" textLength="32.41" lengthAdjust="spacingAndGlyphs" text-anchor="middle">GR1<tspan font-size="5" dy="-2.6">–</tspan><tspan dy="2.6">KIT</tspan><tspan font-size="5" dy="-2.6">+</tspan></text>
<text x="202.20" y="320.20" font-size="7.99" textLength="54.64" lengthAdjust="spacingAndGlyphs" text-anchor="middle">GR1<tspan font-size="5" dy="-2.6">–</tspan><tspan dy="2.6">SCA1</tspan><tspan font-size="5" dy="-2.6">+</tspan><tspan dy="2.6">KIT</tspan><tspan font-size="5" dy="-2.6">+</tspan></text>
<text x="62.75" y="333.70" font-size="8.1" text-anchor="middle" fill="#c8102e" textLength="31.1" lengthAdjust="spacingAndGlyphs" style="stroke-width:0.05"><tspan font-style="italic">p</tspan> = 0.024</text>
<text x="133.85" y="335.30" font-size="8.1" text-anchor="middle" fill="#c8102e" textLength="30.3" lengthAdjust="spacingAndGlyphs" style="stroke-width:0.05"><tspan font-style="italic">p</tspan> = 0.001</text>
<text x="204.65" y="334.30" font-size="8.1" text-anchor="middle" fill="#c8102e" textLength="31.9" lengthAdjust="spacingAndGlyphs" style="stroke-width:0.05"><tspan font-style="italic">p</tspan> = 0.029</text>
<line x1="43.30" y1="334.80" x2="43.30" y2="405.75" stroke="#231f20" stroke-width="1.5"/>
<line x1="39.80" y1="339.99" x2="43.30" y2="339.99" stroke="#231f20" stroke-width="1"/>
<text x="37.10" y="342.93" font-size="8.4" text-anchor="end" textLength="8.78" lengthAdjust="spacingAndGlyphs">30</text>
<line x1="39.80" y1="361.66" x2="43.30" y2="361.66" stroke="#231f20" stroke-width="1"/>
<text x="37.10" y="364.60" font-size="8.4" text-anchor="end" textLength="8.78" lengthAdjust="spacingAndGlyphs">20</text>
<line x1="39.80" y1="383.33" x2="43.30" y2="383.33" stroke="#231f20" stroke-width="1"/>
<text x="37.10" y="386.27" font-size="8.4" text-anchor="end" textLength="8.78" lengthAdjust="spacingAndGlyphs">10</text>
<line x1="39.80" y1="405.00" x2="43.30" y2="405.00" stroke="#231f20" stroke-width="1"/>
<text x="37.10" y="407.94" font-size="8.4" text-anchor="end" textLength="4.39" lengthAdjust="spacingAndGlyphs">0</text>
<line x1="42.55" y1="405.00" x2="88.00" y2="405.00" stroke="#231f20" stroke-width="1.5"/>
<line x1="54.40" y1="405.00" x2="54.40" y2="408.00" stroke="#231f20" stroke-width="1"/>
<line x1="77.00" y1="405.00" x2="77.00" y2="408.00" stroke="#231f20" stroke-width="1"/>
<text x="13.40" y="369.70" font-size="8.8" text-anchor="middle" textLength="36.6" lengthAdjust="spacingAndGlyphs" transform="rotate(-90 13.40 369.70)">% CD45.2<tspan font-size="5.8" dy="-3">+</tspan></text>
<text x="25.20" y="368.70" font-size="8.8" text-anchor="middle" textLength="46.7" lengthAdjust="spacingAndGlyphs" transform="rotate(-90 25.20 368.70)">of PI<tspan font-size="5.8" dy="-3">–</tspan><tspan dy="3"> live cells</tspan></text>
<circle cx="54.50" cy="346.10" r="1.45" fill="#c8102e"/>
<circle cx="54.50" cy="367.60" r="1.45" fill="#c8102e"/>
<circle cx="54.50" cy="372.90" r="1.45" fill="#c8102e"/>
<circle cx="54.50" cy="380.10" r="1.45" fill="#c8102e"/>
<circle cx="48.60" cy="383.60" r="1.45" fill="#c8102e"/>
<circle cx="52.50" cy="385.70" r="1.45" fill="#c8102e"/>
<circle cx="56.30" cy="383.60" r="1.45" fill="#c8102e"/>
<circle cx="60.20" cy="382.40" r="1.45" fill="#c8102e"/>
<circle cx="54.50" cy="391.90" r="1.45" fill="#c8102e"/>
<circle cx="49.70" cy="398.60" r="1.45" fill="#c8102e"/>
<circle cx="54.60" cy="399.60" r="1.45" fill="#c8102e"/>
<circle cx="59.30" cy="399.10" r="1.45" fill="#c8102e"/>
<line x1="47.50" y1="383.60" x2="61.10" y2="383.60" stroke="#c8102e" stroke-width="1.3"/>
<rect x="72.80" y="342.70" width="3.2" height="3.2" fill="#19508f"/>
<rect x="78.00" y="345.70" width="3.2" height="3.2" fill="#19508f"/>
<rect x="70.60" y="356.10" width="3.2" height="3.2" fill="#19508f"/>
<rect x="75.00" y="358.30" width="3.2" height="3.2" fill="#19508f"/>
<rect x="79.90" y="356.60" width="3.2" height="3.2" fill="#19508f"/>
<rect x="75.50" y="364.00" width="3.2" height="3.2" fill="#19508f"/>
<rect x="70.60" y="369.50" width="3.2" height="3.2" fill="#19508f"/>
<rect x="79.90" y="371.40" width="3.2" height="3.2" fill="#19508f"/>
<rect x="75.00" y="373.90" width="3.2" height="3.2" fill="#19508f"/>
<rect x="72.80" y="378.80" width="3.2" height="3.2" fill="#19508f"/>
<rect x="77.80" y="383.60" width="3.2" height="3.2" fill="#19508f"/>
<rect x="75.30" y="391.50" width="3.2" height="3.2" fill="#19508f"/>
<line x1="69.50" y1="368.40" x2="84.70" y2="368.40" stroke="#19508f" stroke-width="1.3"/>
<text x="58.40" y="414.00" font-size="7.9" text-anchor="end" transform="rotate(-45 58.40 414.00)">Lama4<tspan font-size="5.53" dy="-3.56">+/+</tspan></text>
<text x="81.00" y="414.00" font-size="7.9" text-anchor="end" transform="rotate(-45 81.00 414.00)">Lama4<tspan font-size="5.53" dy="-3.56">–/–</tspan></text>
<line x1="113.00" y1="334.60" x2="113.00" y2="404.55" stroke="#231f20" stroke-width="1.5"/>
<line x1="109.80" y1="338.50" x2="113.00" y2="338.50" stroke="#231f20" stroke-width="1"/>
<text x="106.90" y="341.44" font-size="8.4" text-anchor="end" textLength="10.91" lengthAdjust="spacingAndGlyphs">1.0</text>
<line x1="109.80" y1="351.56" x2="113.00" y2="351.56" stroke="#231f20" stroke-width="1"/>
<text x="106.90" y="354.50" font-size="8.4" text-anchor="end" textLength="10.91" lengthAdjust="spacingAndGlyphs">0.8</text>
<line x1="109.80" y1="364.62" x2="113.00" y2="364.62" stroke="#231f20" stroke-width="1"/>
<text x="106.90" y="367.56" font-size="8.4" text-anchor="end" textLength="10.91" lengthAdjust="spacingAndGlyphs">0.6</text>
<line x1="109.80" y1="377.68" x2="113.00" y2="377.68" stroke="#231f20" stroke-width="1"/>
<text x="106.90" y="380.62" font-size="8.4" text-anchor="end" textLength="10.91" lengthAdjust="spacingAndGlyphs">0.4</text>
<line x1="109.80" y1="390.74" x2="113.00" y2="390.74" stroke="#231f20" stroke-width="1"/>
<text x="106.90" y="393.68" font-size="8.4" text-anchor="end" textLength="10.91" lengthAdjust="spacingAndGlyphs">0.2</text>
<line x1="109.80" y1="403.80" x2="113.00" y2="403.80" stroke="#231f20" stroke-width="1"/>
<text x="106.90" y="406.74" font-size="8.4" text-anchor="end" textLength="10.91" lengthAdjust="spacingAndGlyphs">0.0</text>
<line x1="112.25" y1="403.80" x2="159.20" y2="403.80" stroke="#231f20" stroke-width="1.5"/>
<line x1="124.60" y1="403.80" x2="124.60" y2="406.80" stroke="#231f20" stroke-width="1"/>
<line x1="148.30" y1="403.80" x2="148.30" y2="406.80" stroke="#231f20" stroke-width="1"/>
<circle cx="124.30" cy="383.20" r="1.45" fill="#c8102e"/>
<circle cx="118.20" cy="388.60" r="1.45" fill="#c8102e"/>
<circle cx="122.00" cy="392.20" r="1.45" fill="#c8102e"/>
<circle cx="126.50" cy="392.50" r="1.45" fill="#c8102e"/>
<circle cx="132.80" cy="391.10" r="1.45" fill="#c8102e"/>
<circle cx="130.50" cy="394.90" r="1.45" fill="#c8102e"/>
<circle cx="118.20" cy="396.20" r="1.45" fill="#c8102e"/>
<circle cx="122.50" cy="398.70" r="1.45" fill="#c8102e"/>
<circle cx="126.70" cy="397.60" r="1.45" fill="#c8102e"/>
<line x1="116.40" y1="392.40" x2="133.90" y2="392.40" stroke="#c8102e" stroke-width="1.3"/>
<rect x="146.75" y="349.55" width="3.1" height="3.1" fill="#19508f"/>
<rect x="144.05" y="361.65" width="3.1" height="3.1" fill="#19508f"/>
<rect x="149.55" y="360.75" width="3.1" height="3.1" fill="#19508f"/>
<rect x="152.85" y="363.55" width="3.1" height="3.1" fill="#19508f"/>
<rect x="146.75" y="368.15" width="3.1" height="3.1" fill="#19508f"/>
<rect x="146.75" y="375.75" width="3.1" height="3.1" fill="#19508f"/>
<rect x="146.75" y="382.35" width="3.1" height="3.1" fill="#19508f"/>
<rect x="146.75" y="391.85" width="3.1" height="3.1" fill="#19508f"/>
<circle cx="142.80" cy="367.20" r="1.6" fill="#19508f"/>
<line x1="140.20" y1="367.20" x2="156.30" y2="367.20" stroke="#19508f" stroke-width="1.3"/>
<text x="128.60" y="412.80" font-size="7.9" text-anchor="end" transform="rotate(-45 128.60 412.80)">Lama4<tspan font-size="5.53" dy="-3.56">+/+</tspan></text>
<text x="152.30" y="412.80" font-size="7.9" text-anchor="end" transform="rotate(-45 152.30 412.80)">Lama4<tspan font-size="5.53" dy="-3.56">–/–</tspan></text>
<line x1="183.70" y1="336.50" x2="183.70" y2="404.65" stroke="#231f20" stroke-width="1.1"/>
<line x1="180.50" y1="340.89" x2="183.70" y2="340.89" stroke="#231f20" stroke-width="1"/>
<text x="178.50" y="343.83" font-size="8.4" text-anchor="end" textLength="15.08" lengthAdjust="spacingAndGlyphs">0.06</text>
<line x1="180.50" y1="361.96" x2="183.70" y2="361.96" stroke="#231f20" stroke-width="1"/>
<text x="178.50" y="364.90" font-size="8.4" text-anchor="end" textLength="15.08" lengthAdjust="spacingAndGlyphs">0.04</text>
<line x1="180.50" y1="383.03" x2="183.70" y2="383.03" stroke="#231f20" stroke-width="1"/>
<text x="178.50" y="385.97" font-size="8.4" text-anchor="end" textLength="15.08" lengthAdjust="spacingAndGlyphs">0.02</text>
<line x1="180.50" y1="404.10" x2="183.70" y2="404.10" stroke="#231f20" stroke-width="1"/>
<text x="178.50" y="407.04" font-size="8.4" text-anchor="end" textLength="15.08" lengthAdjust="spacingAndGlyphs">0.00</text>
<line x1="183.15" y1="404.10" x2="224.00" y2="404.10" stroke="#231f20" stroke-width="1.1"/>
<line x1="193.80" y1="404.10" x2="193.80" y2="407.10" stroke="#231f20" stroke-width="1"/>
<line x1="214.40" y1="404.10" x2="214.40" y2="407.10" stroke="#231f20" stroke-width="1"/>
<circle cx="191.20" cy="399.10" r="1.45" fill="#c8102e"/>
<circle cx="197.40" cy="399.10" r="1.45" fill="#c8102e"/>
<circle cx="192.30" cy="402.40" r="1.45" fill="#c8102e"/>
<line x1="187.50" y1="400.20" x2="200.90" y2="400.20" stroke="#c8102e" stroke-width="1.3"/>
<rect x="215.05" y="343.85" width="3.1" height="3.1" fill="#19508f"/>
<rect x="209.45" y="348.65" width="3.1" height="3.1" fill="#19508f"/>
<rect x="212.25" y="375.35" width="3.1" height="3.1" fill="#19508f"/>
<rect x="212.25" y="396.85" width="3.1" height="3.1" fill="#19508f"/>
<line x1="207.10" y1="363.70" x2="221.50" y2="363.70" stroke="#19508f" stroke-width="1.3"/>
<text x="197.80" y="413.10" font-size="7.9" text-anchor="end" transform="rotate(-45 197.80 413.10)">Lama4<tspan font-size="5.53" dy="-3.56">+/+</tspan></text>
<text x="218.40" y="413.10" font-size="7.9" text-anchor="end" transform="rotate(-45 218.40 413.10)">Lama4<tspan font-size="5.53" dy="-3.56">–/–</tspan></text>
<text x="236.60" y="298.80" font-size="11.8" fill="#000" font-weight="bold">I</text>
<text x="284.80" y="307.70" font-size="8.21" textLength="24.06" lengthAdjust="spacingAndGlyphs" text-anchor="middle">Day 24</text>
<text x="350.90" y="307.60" font-size="8.21" textLength="33.50" lengthAdjust="spacingAndGlyphs" text-anchor="middle">PLT in PB</text>
<line x1="266.90" y1="311.10" x2="376.10" y2="311.10" stroke="#231f20" stroke-width="1.1"/>
<text x="285.10" y="324.00" font-size="8.21" textLength="13.38" lengthAdjust="spacingAndGlyphs" text-anchor="middle">PLT</text>
<text x="353.20" y="323.60" font-size="8.21" textLength="17.72" lengthAdjust="spacingAndGlyphs" text-anchor="middle">PDW</text>
<text x="288.95" y="337.60" font-size="8.1" text-anchor="middle" fill="#c8102e" textLength="30.9" lengthAdjust="spacingAndGlyphs" style="stroke-width:0.05"><tspan font-style="italic">p</tspan> = 0.007</text>
<text x="354.55" y="336.80" font-size="8.1" text-anchor="middle" fill="#c8102e" textLength="31.3" lengthAdjust="spacingAndGlyphs" style="stroke-width:0.05"><tspan font-style="italic">p</tspan> = 0.018</text>
<line x1="265.60" y1="331.20" x2="265.60" y2="403.05" stroke="#231f20" stroke-width="1.5"/>
<line x1="262.40" y1="336.00" x2="265.60" y2="336.00" stroke="#231f20" stroke-width="1"/>
<text x="260.80" y="338.94" font-size="8.4" text-anchor="end" textLength="16.79" lengthAdjust="spacingAndGlyphs">1500</text>
<line x1="262.40" y1="356.83" x2="265.60" y2="356.83" stroke="#231f20" stroke-width="1"/>
<text x="260.80" y="359.77" font-size="8.4" text-anchor="end" textLength="16.79" lengthAdjust="spacingAndGlyphs">1000</text>
<line x1="262.40" y1="377.67" x2="265.60" y2="377.67" stroke="#231f20" stroke-width="1"/>
<text x="260.80" y="380.61" font-size="8.4" text-anchor="end" textLength="12.59" lengthAdjust="spacingAndGlyphs">500</text>
<line x1="262.40" y1="398.50" x2="265.60" y2="398.50" stroke="#231f20" stroke-width="1"/>
<text x="260.80" y="401.44" font-size="8.4" text-anchor="end" textLength="4.20" lengthAdjust="spacingAndGlyphs">0</text>
<line x1="264.85" y1="402.30" x2="308.80" y2="402.30" stroke="#231f20" stroke-width="1.5"/>
<line x1="276.70" y1="402.30" x2="276.70" y2="405.30" stroke="#231f20" stroke-width="1"/>
<line x1="298.30" y1="402.30" x2="298.30" y2="405.30" stroke="#231f20" stroke-width="1"/>
<line x1="267.50" y1="398.50" x2="308.80" y2="398.50" stroke="#555" stroke-width="0.6" stroke-dasharray="0.9 0.9"/>
<text x="242.10" y="369.40" font-size="8.2" text-anchor="middle" fill="#444" textLength="23.6" lengthAdjust="spacingAndGlyphs" transform="rotate(-90 242.10 369.40)">× 10<tspan font-size="5.5" dy="-2.8">9</tspan><tspan dy="2.8"> / L</tspan></text>
<circle cx="274.40" cy="346.10" r="1.45" fill="#c8102e"/>
<circle cx="279.00" cy="348.40" r="1.45" fill="#c8102e"/>
<circle cx="279.20" cy="361.30" r="1.45" fill="#c8102e"/>
<circle cx="274.40" cy="363.50" r="1.45" fill="#c8102e"/>
<circle cx="272.10" cy="374.10" r="1.45" fill="#c8102e"/>
<circle cx="276.70" cy="374.50" r="1.45" fill="#c8102e"/>
<circle cx="281.00" cy="373.20" r="1.45" fill="#c8102e"/>
<circle cx="276.70" cy="394.20" r="1.45" fill="#c8102e"/>
<line x1="269.90" y1="368.40" x2="284.10" y2="368.40" stroke="#c8102e" stroke-width="1.3"/>
<rect x="296.85" y="360.85" width="3.1" height="3.1" fill="#19508f"/>
<rect x="296.85" y="380.45" width="3.1" height="3.1" fill="#19508f"/>
<rect x="294.25" y="387.55" width="3.1" height="3.1" fill="#19508f"/>
<rect x="298.95" y="388.15" width="3.1" height="3.1" fill="#19508f"/>
<rect x="302.25" y="393.65" width="3.1" height="3.1" fill="#19508f"/>
<rect x="290.75" y="395.15" width="3.1" height="3.1" fill="#19508f"/>
<rect x="294.75" y="396.85" width="3.1" height="3.1" fill="#19508f"/>
<rect x="298.95" y="396.85" width="3.1" height="3.1" fill="#19508f"/>
<line x1="291.20" y1="392.60" x2="305.80" y2="392.60" stroke="#19508f" stroke-width="1.3"/>
<text x="280.70" y="411.30" font-size="7.9" text-anchor="end" transform="rotate(-45 280.70 411.30)">Lama4<tspan font-size="5.53" dy="-3.56">+/+</tspan></text>
<text x="302.30" y="411.30" font-size="7.9" text-anchor="end" transform="rotate(-45 302.30 411.30)">Lama4<tspan font-size="5.53" dy="-3.56">–/–</tspan></text>
<line x1="331.10" y1="333.40" x2="331.10" y2="402.95" stroke="#231f20" stroke-width="1.1"/>
<line x1="327.90" y1="337.45" x2="331.10" y2="337.45" stroke="#231f20" stroke-width="1"/>
<text x="325.60" y="340.39" font-size="8.4" text-anchor="end" textLength="7.62" lengthAdjust="spacingAndGlyphs">15</text>
<line x1="327.90" y1="359.10" x2="331.10" y2="359.10" stroke="#231f20" stroke-width="1"/>
<text x="325.60" y="362.04" font-size="8.4" text-anchor="end" textLength="7.62" lengthAdjust="spacingAndGlyphs">10</text>
<line x1="327.90" y1="380.75" x2="331.10" y2="380.75" stroke="#231f20" stroke-width="1"/>
<text x="325.60" y="383.69" font-size="8.4" text-anchor="end" textLength="3.81" lengthAdjust="spacingAndGlyphs">5</text>
<line x1="327.90" y1="402.40" x2="331.10" y2="402.40" stroke="#231f20" stroke-width="1"/>
<text x="325.60" y="405.34" font-size="8.4" text-anchor="end" textLength="3.81" lengthAdjust="spacingAndGlyphs">0</text>
<line x1="330.55" y1="402.40" x2="376.60" y2="402.40" stroke="#231f20" stroke-width="1.1"/>
<line x1="343.00" y1="402.40" x2="343.00" y2="405.40" stroke="#231f20" stroke-width="1"/>
<line x1="366.50" y1="402.40" x2="366.50" y2="405.40" stroke="#231f20" stroke-width="1"/>
<text x="315.80" y="369.00" font-size="6.8" text-anchor="middle" fill="#555" transform="rotate(-90 315.80 369.00)">fL</text>
<path d="M335.6,373.6 L337.1,371.8 L339.5,373.6 L341.5,375 L343,375.6 L344.5,375.2 L346.5,374 L348.9,372.3 L350.8,374" stroke="#c8102e" stroke-width="1.8" fill="none"/>
<circle cx="337.10" cy="371.90" r="1.45" fill="#c8102e"/>
<circle cx="340.00" cy="374.00" r="1.45" fill="#c8102e"/>
<circle cx="343.00" cy="375.50" r="1.45" fill="#c8102e"/>
<circle cx="346.00" cy="374.30" r="1.45" fill="#c8102e"/>
<circle cx="348.90" cy="372.40" r="1.45" fill="#c8102e"/>
<rect x="364.75" y="351.45" width="3.1" height="3.1" fill="#19508f"/>
<rect x="367.65" y="359.65" width="3.1" height="3.1" fill="#19508f"/>
<rect x="364.75" y="367.95" width="3.1" height="3.1" fill="#19508f"/>
<rect x="364.75" y="374.95" width="3.1" height="3.1" fill="#19508f"/>
<circle cx="363.50" cy="362.80" r="1.6" fill="#19508f"/>
<line x1="358.90" y1="362.60" x2="374.70" y2="362.60" stroke="#19508f" stroke-width="1.3"/>
<text x="347.00" y="411.40" font-size="7.9" text-anchor="end" transform="rotate(-45 347.00 411.40)">Lama4<tspan font-size="5.53" dy="-3.56">+/+</tspan></text>
<text x="370.50" y="411.40" font-size="7.9" text-anchor="end" transform="rotate(-45 370.50 411.40)">Lama4<tspan font-size="5.53" dy="-3.56">–/–</tspan></text>
<text x="383.20" y="298.80" font-size="11.8" fill="#000" font-weight="bold">J</text>
<g transform="translate(389.00 341.50) scale(0.82)">
<circle cx="12.5" cy="4.7" r="5.2" fill="url(#cg)" stroke="#0a5a0a" stroke-width="0.5"/>
<circle cx="5.4" cy="7.7" r="5.2" fill="url(#cg)" stroke="#0a5a0a" stroke-width="0.5"/>
<circle cx="5.4" cy="7.7" r="1.9" fill="url(#ng)"/>
<circle cx="20.8" cy="5" r="5.2" fill="url(#cg)" stroke="#0a5a0a" stroke-width="0.5"/>
<circle cx="20.8" cy="5" r="1.9" fill="url(#ng)"/>
<circle cx="9.7" cy="15.7" r="5.2" fill="url(#cg)" stroke="#0a5a0a" stroke-width="0.5"/>
<circle cx="9.7" cy="15.7" r="1.9" fill="url(#ng)"/>
<circle cx="20.8" cy="13" r="5.2" fill="url(#cg)" stroke="#0a5a0a" stroke-width="0.5"/>
<circle cx="20.8" cy="13" r="1.9" fill="url(#ng)"/>
<circle cx="14.1" cy="10.2" r="5.2" fill="url(#cg)" stroke="#0a5a0a" stroke-width="0.5"/>
<circle cx="14.1" cy="10.2" r="1.9" fill="url(#ng)"/>
</g>
<text x="399.40" y="365.80" font-size="8.21" textLength="32.08" lengthAdjust="spacingAndGlyphs" text-anchor="middle">10 million</text>
<text x="399.40" y="375.00" font-size="8.21" textLength="25.75" lengthAdjust="spacingAndGlyphs" text-anchor="middle">CD45.1</text>
<text x="399.20" y="383.50" font-size="8.21" textLength="32.64" lengthAdjust="spacingAndGlyphs" text-anchor="middle">AML cells</text>
<line x1="412.30" y1="350.00" x2="418.50" y2="350.00" stroke="#000" stroke-width="1.2"/>
<line x1="418.50" y1="329.80" x2="418.50" y2="369.40" stroke="#000" stroke-width="1.2"/>
<line x1="417.90" y1="330.40" x2="426.50" y2="330.40" stroke="#000" stroke-width="1.3"/>
<path d="M426.00,327.40 L431.50,330.40 L426.00,333.40 Z" fill="#000"/>
<line x1="417.90" y1="368.80" x2="426.50" y2="368.80" stroke="#000" stroke-width="1.3"/>
<path d="M426.00,365.80 L431.50,368.80 L426.00,371.80 Z" fill="#000"/>
<text x="442.90" y="320.40" font-size="8.42" textLength="26.44" lengthAdjust="spacingAndGlyphs" text-anchor="middle">CD45.2</text>
<g transform="translate(434.80 329.80) scale(0.95)"><path d="M17.6,0.6 C20,1.3 23,0.9 26.2,-1.3" stroke="#c98a50" stroke-width="0.75" fill="none"/><path d="M0,0 C0.8,-1.6 2.2,-3.4 4.2,-4.8 C6.5,-7.2 11,-8.2 14.5,-6.8 C17.5,-5.5 18.5,-2.5 18,0.5 C17.8,1.6 16.8,2 15.5,2 L4.5,2 C2.5,1.8 0.8,1 0,0 Z" fill="#5a5a5c"/><path d="M0,0 C0.8,-1.6 2,-3 3.4,-3.9 C3.0,-2 3.2,0.2 4.0,1.9 C2.2,1.7 0.7,1 0,0 Z" fill="#333335"/><ellipse cx="5.4" cy="-5.3" rx="1.7" ry="2.4" transform="rotate(-12 5.4 -5.3)" fill="#e58b97"/><ellipse cx="5.6" cy="-5.0" rx="1.0" ry="1.5" fill="#f2aab4"/><circle cx="0.3" cy="0" r="0.55" fill="#111"/><ellipse cx="5.8" cy="2.0" rx="1.5" ry="0.65" fill="#a8383e"/><ellipse cx="16.0" cy="1.8" rx="1.5" ry="0.65" fill="#a8383e"/></g>
<text x="431.80" y="340.60" font-size="8.21" textLength="32.03" lengthAdjust="spacingAndGlyphs" font-style="italic">Lama4<tspan font-size="6.08" dy="-3.12">+/+</tspan></text>
<g transform="translate(434.80 369.50) scale(0.95)"><path d="M17.6,0.6 C20,1.3 23,0.9 26.2,-1.3" stroke="#c98a50" stroke-width="0.75" fill="none"/><path d="M0,0 C0.8,-1.6 2.2,-3.4 4.2,-4.8 C6.5,-7.2 11,-8.2 14.5,-6.8 C17.5,-5.5 18.5,-2.5 18,0.5 C17.8,1.6 16.8,2 15.5,2 L4.5,2 C2.5,1.8 0.8,1 0,0 Z" fill="#5a5a5c"/><path d="M0,0 C0.8,-1.6 2,-3 3.4,-3.9 C3.0,-2 3.2,0.2 4.0,1.9 C2.2,1.7 0.7,1 0,0 Z" fill="#333335"/><ellipse cx="5.4" cy="-5.3" rx="1.7" ry="2.4" transform="rotate(-12 5.4 -5.3)" fill="#e58b97"/><ellipse cx="5.6" cy="-5.0" rx="1.0" ry="1.5" fill="#f2aab4"/><circle cx="0.3" cy="0" r="0.55" fill="#111"/><ellipse cx="5.8" cy="2.0" rx="1.5" ry="0.65" fill="#a8383e"/><ellipse cx="16.0" cy="1.8" rx="1.5" ry="0.65" fill="#a8383e"/></g>
<text x="432.00" y="381.40" font-size="8.21" textLength="31.69" lengthAdjust="spacingAndGlyphs" font-style="italic">Lama4<tspan font-size="6.08" dy="-3.12">–/–</tspan></text>
<text x="466.70" y="350.50" font-size="6.7" textLength="20.64" lengthAdjust="spacingAndGlyphs" text-anchor="middle">3 hours</text>
<line x1="456.80" y1="355.00" x2="473.90" y2="355.00" stroke="#000" stroke-width="1.3"/>
<path d="M473.40,352.20 L478.40,355.00 L473.40,357.80 Z" fill="#000"/>
<text x="496.00" y="343.60" font-size="8.42" textLength="31.20" lengthAdjust="spacingAndGlyphs" text-anchor="middle">Take PB,</text>
<text x="496.00" y="352.80" font-size="8.42" textLength="26.88" lengthAdjust="spacingAndGlyphs" text-anchor="middle">BM and</text>
<text x="496.00" y="362.30" font-size="8.42" textLength="22.98" lengthAdjust="spacingAndGlyphs" text-anchor="middle">spleen</text>
<text x="496.00" y="371.30" font-size="8.42" textLength="31.64" lengthAdjust="spacingAndGlyphs" text-anchor="middle">for FACS</text>
<text x="7.00" y="450.80" font-size="11.8" fill="#000" font-weight="bold">K</text>
<text x="116.20" y="453.00" font-size="8.8" text-anchor="middle" textLength="84.7" lengthAdjust="spacingAndGlyphs">3h-homing of AML cells</text>
<line x1="66.20" y1="457.80" x2="165.50" y2="457.80" stroke="#231f20" stroke-width="1.1"/>
<line x1="60.60" y1="461.00" x2="60.60" y2="561.95" stroke="#231f20" stroke-width="1.5"/>
<line x1="57.40" y1="465.20" x2="60.60" y2="465.20" stroke="#231f20" stroke-width="1"/>
<text x="53.90" y="468.14" font-size="8.4" text-anchor="end" textLength="18.89" lengthAdjust="spacingAndGlyphs">0.020</text>
<line x1="57.40" y1="489.20" x2="60.60" y2="489.20" stroke="#231f20" stroke-width="1"/>
<text x="53.90" y="492.14" font-size="8.4" text-anchor="end" textLength="18.89" lengthAdjust="spacingAndGlyphs">0.015</text>
<line x1="57.40" y1="513.20" x2="60.60" y2="513.20" stroke="#231f20" stroke-width="1"/>
<text x="53.90" y="516.14" font-size="8.4" text-anchor="end" textLength="18.89" lengthAdjust="spacingAndGlyphs">0.010</text>
<line x1="57.40" y1="537.20" x2="60.60" y2="537.20" stroke="#231f20" stroke-width="1"/>
<text x="53.90" y="540.14" font-size="8.4" text-anchor="end" textLength="18.89" lengthAdjust="spacingAndGlyphs">0.005</text>
<line x1="57.40" y1="561.20" x2="60.60" y2="561.20" stroke="#231f20" stroke-width="1"/>
<text x="53.90" y="564.14" font-size="8.4" text-anchor="end" textLength="18.89" lengthAdjust="spacingAndGlyphs">0.000</text>
<line x1="59.85" y1="561.20" x2="180.50" y2="561.20" stroke="#231f20" stroke-width="1.5"/>
<line x1="72.30" y1="561.20" x2="72.30" y2="564.20" stroke="#231f20" stroke-width="1"/>
<line x1="89.60" y1="561.20" x2="89.60" y2="564.20" stroke="#231f20" stroke-width="1"/>
<line x1="112.10" y1="561.20" x2="112.10" y2="564.20" stroke="#231f20" stroke-width="1"/>
<line x1="129.40" y1="561.20" x2="129.40" y2="564.20" stroke="#231f20" stroke-width="1"/>
<line x1="152.50" y1="561.20" x2="152.50" y2="564.20" stroke="#231f20" stroke-width="1"/>
<line x1="169.80" y1="561.20" x2="169.80" y2="564.20" stroke="#231f20" stroke-width="1"/>
<line x1="101.30" y1="462.00" x2="101.30" y2="560.50" stroke="#777" stroke-width="0.75" stroke-dasharray="0.9 0.9"/>
<line x1="141.70" y1="462.00" x2="141.70" y2="560.50" stroke="#777" stroke-width="0.75" stroke-dasharray="0.9 0.9"/>
<text x="78.60" y="470.70" font-size="8.21" textLength="10.14" lengthAdjust="spacingAndGlyphs" text-anchor="middle">PB</text>
<text x="118.40" y="470.70" font-size="8.21" textLength="23.66" lengthAdjust="spacingAndGlyphs" text-anchor="middle">Spleen</text>
<text x="161.80" y="470.70" font-size="8.21" textLength="11.39" lengthAdjust="spacingAndGlyphs" text-anchor="middle">BM</text>
<text x="81.30" y="486.40" font-size="7.99" textLength="7.81" lengthAdjust="spacingAndGlyphs" text-anchor="middle">ns</text>
<text x="120.20" y="486.40" font-size="7.99" textLength="7.81" lengthAdjust="spacingAndGlyphs" text-anchor="middle">ns</text>
<text x="160.50" y="486.40" font-size="7.99" textLength="7.81" lengthAdjust="spacingAndGlyphs" text-anchor="middle">ns</text>
<path d="M73.30,494.90 L73.30,489.40 L89.30,489.40 L89.30,494.90" stroke="#231f20" stroke-width="1.0" fill="none"/>
<path d="M111.90,494.90 L111.90,489.40 L128.50,489.40 L128.50,494.90" stroke="#231f20" stroke-width="1.0" fill="none"/>
<path d="M152.30,494.90 L152.30,489.40 L168.60,489.40 L168.60,494.90" stroke="#231f20" stroke-width="1.0" fill="none"/>
<text x="27.40" y="510.30" font-size="9.4" text-anchor="middle" textLength="92.7" lengthAdjust="spacingAndGlyphs" transform="rotate(-90 27.40 510.30)">% AML cells of total live cells</text>
<circle cx="72.40" cy="506.50" r="1.45" fill="#c8102e"/>
<circle cx="72.40" cy="546.90" r="1.45" fill="#c8102e"/>
<circle cx="72.40" cy="553.20" r="1.45" fill="#c8102e"/>
<circle cx="72.40" cy="559.60" r="1.45" fill="#c8102e"/>
<line x1="66.20" y1="549.90" x2="77.90" y2="549.90" stroke="#e07586" stroke-width="1.9"/>
<circle cx="89.70" cy="530.80" r="1.45" fill="#19508f"/>
<circle cx="85.80" cy="552.70" r="1.45" fill="#19508f"/>
<circle cx="93.20" cy="549.70" r="1.45" fill="#19508f"/>
<line x1="84.60" y1="549.70" x2="95.50" y2="549.70" stroke="#19508f" stroke-width="1.3"/>
<circle cx="111.90" cy="545.50" r="1.45" fill="#c8102e"/>
<circle cx="109.60" cy="552.70" r="1.45" fill="#c8102e"/>
<circle cx="115.80" cy="552.70" r="1.45" fill="#c8102e"/>
<circle cx="111.90" cy="558.20" r="1.45" fill="#c8102e"/>
<line x1="107.70" y1="552.70" x2="117.40" y2="552.70" stroke="#c8102e" stroke-width="1.3"/>
<circle cx="126.20" cy="550.20" r="1.45" fill="#19508f"/>
<circle cx="126.20" cy="555.90" r="1.45" fill="#19508f"/>
<circle cx="133.10" cy="553.60" r="1.45" fill="#19508f"/>
<line x1="123.90" y1="553.60" x2="134.30" y2="553.60" stroke="#19508f" stroke-width="1.3"/>
<circle cx="149.30" cy="501.90" r="1.45" fill="#c8102e"/>
<circle cx="156.20" cy="500.70" r="1.45" fill="#c8102e"/>
<circle cx="149.30" cy="516.90" r="1.45" fill="#c8102e"/>
<circle cx="156.20" cy="513.40" r="1.45" fill="#c8102e"/>
<line x1="147.00" y1="507.70" x2="158.10" y2="507.70" stroke="#c8102e" stroke-width="1.3"/>
<circle cx="169.50" cy="503.00" r="1.45" fill="#19508f"/>
<circle cx="169.50" cy="513.80" r="1.45" fill="#19508f"/>
<circle cx="169.50" cy="530.50" r="1.45" fill="#19508f"/>
<line x1="164.60" y1="513.80" x2="174.60" y2="513.80" stroke="#4a7db5" stroke-width="1.3"/>
<text x="76.30" y="570.20" font-size="7.9" text-anchor="end" transform="rotate(-45 76.30 570.20)">Lama4<tspan font-size="5.53" dy="-3.56">+/+</tspan></text>
<text x="93.60" y="570.20" font-size="7.9" text-anchor="end" transform="rotate(-45 93.60 570.20)">Lama4<tspan font-size="5.53" dy="-3.56">–/–</tspan></text>
<text x="116.10" y="570.20" font-size="7.9" text-anchor="end" transform="rotate(-45 116.10 570.20)">Lama4<tspan font-size="5.53" dy="-3.56">+/+</tspan></text>
<text x="133.40" y="570.20" font-size="7.9" text-anchor="end" transform="rotate(-45 133.40 570.20)">Lama4<tspan font-size="5.53" dy="-3.56">–/–</tspan></text>
<text x="156.50" y="570.20" font-size="7.9" text-anchor="end" transform="rotate(-45 156.50 570.20)">Lama4<tspan font-size="5.53" dy="-3.56">+/+</tspan></text>
<text x="173.80" y="570.20" font-size="7.9" text-anchor="end" transform="rotate(-45 173.80 570.20)">Lama4<tspan font-size="5.53" dy="-3.56">–/–</tspan></text>
<text x="192.30" y="450.80" font-size="11.8" fill="#000" font-weight="bold">L</text>
<text x="215.00" y="479.00" font-size="8.21" textLength="51.09" lengthAdjust="spacingAndGlyphs" text-anchor="middle">100K <tspan font-style="italic">MLL-AF9</tspan></text>
<text x="214.40" y="488.70" font-size="8.21" textLength="32.64" lengthAdjust="spacingAndGlyphs" text-anchor="middle">AML cells</text>
<g transform="translate(198.50 492.20) scale(0.98)">
<circle cx="12.5" cy="4.7" r="5.2" fill="url(#cg)" stroke="#0a5a0a" stroke-width="0.5"/>
<circle cx="5.4" cy="7.7" r="5.2" fill="url(#cg)" stroke="#0a5a0a" stroke-width="0.5"/>
<circle cx="5.4" cy="7.7" r="1.9" fill="url(#ng)"/>
<circle cx="20.8" cy="5" r="5.2" fill="url(#cg)" stroke="#0a5a0a" stroke-width="0.5"/>
<circle cx="20.8" cy="5" r="1.9" fill="url(#ng)"/>
<circle cx="9.7" cy="15.7" r="5.2" fill="url(#cg)" stroke="#0a5a0a" stroke-width="0.5"/>
<circle cx="9.7" cy="15.7" r="1.9" fill="url(#ng)"/>
<circle cx="20.8" cy="13" r="5.2" fill="url(#cg)" stroke="#0a5a0a" stroke-width="0.5"/>
<circle cx="20.8" cy="13" r="1.9" fill="url(#ng)"/>
<circle cx="14.1" cy="10.2" r="5.2" fill="url(#cg)" stroke="#0a5a0a" stroke-width="0.5"/>
<circle cx="14.1" cy="10.2" r="1.9" fill="url(#ng)"/>
</g>
<text x="211.00" y="521.30" font-size="8.42" textLength="26.44" lengthAdjust="spacingAndGlyphs" text-anchor="middle">CD45.1</text>
<line x1="231.00" y1="501.20" x2="246.30" y2="501.20" stroke="#000" stroke-width="1.2"/>
<line x1="246.30" y1="478.40" x2="246.30" y2="523.90" stroke="#000" stroke-width="1.2"/>
<line x1="245.70" y1="479.00" x2="267.80" y2="479.00" stroke="#000" stroke-width="1.3"/>
<path d="M267.30,475.80 L273.30,479.00 L267.30,482.20 Z" fill="#000"/>
<line x1="245.70" y1="523.30" x2="267.80" y2="523.30" stroke="#000" stroke-width="1.3"/>
<path d="M267.30,520.10 L273.30,523.30 L267.30,526.50 Z" fill="#000"/>
<text x="288.20" y="460.60" font-size="8.42" textLength="26.44" lengthAdjust="spacingAndGlyphs" text-anchor="middle">CD45.2</text>
<g transform="translate(274.80 473.20) scale(1.0)"><path d="M17.6,0.6 C20,1.3 23,0.9 26.2,-1.3" stroke="#c98a50" stroke-width="0.75" fill="none"/><path d="M0,0 C0.8,-1.6 2.2,-3.4 4.2,-4.8 C6.5,-7.2 11,-8.2 14.5,-6.8 C17.5,-5.5 18.5,-2.5 18,0.5 C17.8,1.6 16.8,2 15.5,2 L4.5,2 C2.5,1.8 0.8,1 0,0 Z" fill="#5a5a5c"/><path d="M0,0 C0.8,-1.6 2,-3 3.4,-3.9 C3.0,-2 3.2,0.2 4.0,1.9 C2.2,1.7 0.7,1 0,0 Z" fill="#333335"/><ellipse cx="5.4" cy="-5.3" rx="1.7" ry="2.4" transform="rotate(-12 5.4 -5.3)" fill="#e58b97"/><ellipse cx="5.6" cy="-5.0" rx="1.0" ry="1.5" fill="#f2aab4"/><circle cx="0.3" cy="0" r="0.55" fill="#111"/><ellipse cx="5.8" cy="2.0" rx="1.5" ry="0.65" fill="#a8383e"/><ellipse cx="16.0" cy="1.8" rx="1.5" ry="0.65" fill="#a8383e"/></g>
<text x="275.00" y="483.00" font-size="8.21" textLength="32.03" lengthAdjust="spacingAndGlyphs" font-style="italic">Lama4<tspan font-size="6.08" dy="-3.12">+/+</tspan></text>
<g transform="translate(274.80 523.80) scale(1.0)"><path d="M17.6,0.6 C20,1.3 23,0.9 26.2,-1.3" stroke="#c98a50" stroke-width="0.75" fill="none"/><path d="M0,0 C0.8,-1.6 2.2,-3.4 4.2,-4.8 C6.5,-7.2 11,-8.2 14.5,-6.8 C17.5,-5.5 18.5,-2.5 18,0.5 C17.8,1.6 16.8,2 15.5,2 L4.5,2 C2.5,1.8 0.8,1 0,0 Z" fill="#5a5a5c"/><path d="M0,0 C0.8,-1.6 2,-3 3.4,-3.9 C3.0,-2 3.2,0.2 4.0,1.9 C2.2,1.7 0.7,1 0,0 Z" fill="#333335"/><ellipse cx="5.4" cy="-5.3" rx="1.7" ry="2.4" transform="rotate(-12 5.4 -5.3)" fill="#e58b97"/><ellipse cx="5.6" cy="-5.0" rx="1.0" ry="1.5" fill="#f2aab4"/><circle cx="0.3" cy="0" r="0.55" fill="#111"/><ellipse cx="5.8" cy="2.0" rx="1.5" ry="0.65" fill="#a8383e"/><ellipse cx="16.0" cy="1.8" rx="1.5" ry="0.65" fill="#a8383e"/></g>
<text x="274.40" y="535.60" font-size="8.21" textLength="31.69" lengthAdjust="spacingAndGlyphs" font-style="italic">Lama4<tspan font-size="6.08" dy="-3.12">–/–</tspan></text>
<line x1="323.50" y1="504.20" x2="430.10" y2="504.20" stroke="#000" stroke-width="1.3"/>
<path d="M429.60,500.90 L436.60,504.20 L429.60,507.50 Z" fill="#000"/>
<text x="377.20" y="479.70" font-size="8.21" textLength="24.06" lengthAdjust="spacingAndGlyphs" text-anchor="middle">Day 24</text>
<line x1="375.40" y1="483.90" x2="375.40" y2="498.30" stroke="#000" stroke-width="1.1"/>
<path d="M372.80,497.80 L375.40,502.80 L378.00,497.80 Z" fill="#000"/>
<text x="375.40" y="513.90" font-size="8.21" textLength="39.25" lengthAdjust="spacingAndGlyphs" text-anchor="middle">TBI (9.5Gy)</text>
<text x="374.00" y="522.70" font-size="8.21" textLength="55.05" lengthAdjust="spacingAndGlyphs" text-anchor="middle">+ 5 million GFP<tspan font-size="5" dy="-2.6">+</tspan></text>
<text x="374.80" y="532.40" font-size="8.53" textLength="57.02" lengthAdjust="spacingAndGlyphs" text-anchor="middle">BM cell injection</text>
<text x="476.80" y="501.20" font-size="8.42" textLength="47.83" lengthAdjust="spacingAndGlyphs" text-anchor="middle">AML relapse?</text>
<rect x="450.00" y="508.90" width="60.50" height="22.30" fill="#fde3c8"/>
<text x="453.80" y="518.00" font-size="8.42" textLength="51.58" lengthAdjust="spacingAndGlyphs">- FACS of AML</text>
<text x="453.80" y="527.70" font-size="8.42" textLength="32.50" lengthAdjust="spacingAndGlyphs">- Survival</text>
<text x="191.60" y="593.80" font-size="11.8" fill="#000" font-weight="bold">M</text>
<text x="206.80" y="601.60" font-size="8.32" textLength="40.61" lengthAdjust="spacingAndGlyphs">Therapeutic</text>
<text x="206.80" y="610.80" font-size="8.4" textLength="52.4" lengthAdjust="spacingAndGlyphs">transplantation</text>
<path d="M218.6,614.2 L223,614.2 L220.8,619 Z" fill="#000"/>
<line x1="220.80" y1="612.80" x2="220.80" y2="616.00" stroke="#000" stroke-width="0.9"/>
<line x1="220.80" y1="620.50" x2="220.80" y2="682.25" stroke="#231f20" stroke-width="1.5"/>
<line x1="217.60" y1="623.00" x2="220.80" y2="623.00" stroke="#231f20" stroke-width="1"/>
<text x="214.80" y="625.94" font-size="8.4" text-anchor="end" textLength="12.18" lengthAdjust="spacingAndGlyphs">100</text>
<line x1="217.60" y1="634.70" x2="220.80" y2="634.70" stroke="#231f20" stroke-width="1"/>
<text x="214.80" y="637.64" font-size="8.4" text-anchor="end" textLength="8.12" lengthAdjust="spacingAndGlyphs">80</text>
<line x1="217.60" y1="646.40" x2="220.80" y2="646.40" stroke="#231f20" stroke-width="1"/>
<text x="214.80" y="649.34" font-size="8.4" text-anchor="end" textLength="8.12" lengthAdjust="spacingAndGlyphs">60</text>
<line x1="217.60" y1="658.10" x2="220.80" y2="658.10" stroke="#231f20" stroke-width="1"/>
<text x="214.80" y="661.04" font-size="8.4" text-anchor="end" textLength="8.12" lengthAdjust="spacingAndGlyphs">40</text>
<line x1="217.60" y1="669.80" x2="220.80" y2="669.80" stroke="#231f20" stroke-width="1"/>
<text x="214.80" y="672.74" font-size="8.4" text-anchor="end" textLength="8.12" lengthAdjust="spacingAndGlyphs">20</text>
<line x1="217.60" y1="681.50" x2="220.80" y2="681.50" stroke="#231f20" stroke-width="1"/>
<text x="214.80" y="684.44" font-size="8.4" text-anchor="end" textLength="4.06" lengthAdjust="spacingAndGlyphs">0</text>
<line x1="220.10" y1="681.50" x2="285.40" y2="681.50" stroke="#231f20" stroke-width="1.5"/>
<line x1="290.30" y1="681.50" x2="358.00" y2="681.50" stroke="#231f20" stroke-width="1.5"/>
<line x1="220.80" y1="681.50" x2="220.80" y2="684.50" stroke="#231f20" stroke-width="1"/>
<line x1="242.00" y1="681.50" x2="242.00" y2="684.50" stroke="#231f20" stroke-width="1"/>
<line x1="263.40" y1="681.50" x2="263.40" y2="684.50" stroke="#231f20" stroke-width="1"/>
<line x1="285.00" y1="681.50" x2="285.00" y2="684.50" stroke="#231f20" stroke-width="1"/>
<line x1="320.30" y1="681.50" x2="320.30" y2="684.50" stroke="#231f20" stroke-width="1"/>
<line x1="350.00" y1="681.50" x2="350.00" y2="684.50" stroke="#231f20" stroke-width="1"/>
<line x1="285.40" y1="679.30" x2="285.40" y2="683.70" stroke="#231f20" stroke-width="1"/>
<line x1="290.30" y1="679.30" x2="290.30" y2="683.70" stroke="#231f20" stroke-width="1"/>
<text x="220.60" y="693.50" font-size="8.5" text-anchor="middle" textLength="4.00" lengthAdjust="spacingAndGlyphs">0</text>
<text x="241.80" y="693.50" font-size="8.5" text-anchor="middle" textLength="8.01" lengthAdjust="spacingAndGlyphs">10</text>
<text x="263.60" y="693.50" font-size="8.5" text-anchor="middle" textLength="8.01" lengthAdjust="spacingAndGlyphs">20</text>
<text x="285.40" y="693.50" font-size="8.5" text-anchor="middle" textLength="8.01" lengthAdjust="spacingAndGlyphs">30</text>
<text x="320.30" y="693.50" font-size="8.5" text-anchor="middle" textLength="8.01" lengthAdjust="spacingAndGlyphs">80</text>
<text x="350.20" y="693.50" font-size="8.5" text-anchor="middle" textLength="12.01" lengthAdjust="spacingAndGlyphs">130</text>
<text x="244.80" y="703.70" font-size="9.2" textLength="86.6" lengthAdjust="spacingAndGlyphs">Days post BM transplantation</text>
<text x="200.60" y="652.00" font-size="9.3" text-anchor="middle" textLength="34.4" lengthAdjust="spacingAndGlyphs" transform="rotate(-90 200.60 652.00)">Survival (%)</text>
<path d="M220.8,623.00 L244.23,623.00 L244.23,623.00 L244.23,634.70 L246.36,634.70 L246.36,640.55 L248.49,640.55 L248.49,646.40 L250.62,646.40 L250.62,658.10 L252.75,658.10 L252.75,663.95 L254.88,663.95 L254.88,669.80 L257.01,669.80 L257.01,675.65 L263.40,675.65 L263.40,681.50" stroke="#c8102e" stroke-width="1.5" fill="none"/>
<circle cx="244.43" cy="634.70" r="1.45" fill="#c8102e"/>
<circle cx="246.56" cy="640.55" r="1.45" fill="#c8102e"/>
<circle cx="248.69" cy="646.40" r="1.45" fill="#c8102e"/>
<circle cx="250.82" cy="658.10" r="1.45" fill="#c8102e"/>
<circle cx="252.95" cy="663.95" r="1.45" fill="#c8102e"/>
<circle cx="255.08" cy="669.80" r="1.45" fill="#c8102e"/>
<circle cx="257.21" cy="675.65" r="1.45" fill="#c8102e"/>
<circle cx="263.60" cy="681.50" r="1.45" fill="#c8102e"/>
<path d="M241.89,623.00 L241.89,630.31 M242.95,623.00 L242.95,630.31 L254.88,630.31 L254.88,644.94 L256.80,644.94 L256.80,656.40 L265.53,656.40 L265.53,668.98 L280.44,668.98 L280.44,675.24 L285.4,675.24 M290.3,675.24 L337.8,675.24" stroke="#19508f" stroke-width="1.5" fill="none"/>
<circle cx="241.89" cy="630.31" r="1.45" fill="#19508f"/>
<circle cx="254.45" cy="643.48" r="1.45" fill="#19508f"/>
<circle cx="256.80" cy="656.40" r="1.45" fill="#19508f"/>
<circle cx="265.10" cy="668.98" r="1.45" fill="#19508f"/>
<circle cx="279.59" cy="675.24" r="1.45" fill="#19508f"/>
<circle cx="337.80" cy="675.24" r="1.45" fill="#19508f"/>
<text x="262.50" y="632.80" font-size="5.72" textLength="25.20" lengthAdjust="spacingAndGlyphs" fill="#c8102e" style="stroke-width:0"><tspan font-style="italic">p</tspan> = 0.0095</text>
<line x1="286.40" y1="650.80" x2="293.80" y2="650.80" stroke="#19508f" stroke-width="1.1"/>
<circle cx="290.10" cy="650.80" r="1.45" fill="#19508f"/>
<line x1="286.40" y1="659.70" x2="293.80" y2="659.70" stroke="#c8102e" stroke-width="1.1"/>
<circle cx="290.10" cy="659.70" r="1.45" fill="#c8102e"/>
<text x="295.5" y="652.6" font-size="5.3" fill="#3a3a3a" style="stroke-width:0"><tspan font-style="italic">Lama4</tspan><tspan font-size="3.7" dy="-1.8">+/+</tspan><tspan dy="1.8"> (n = 8)</tspan></text>
<text x="297" y="661.5" font-size="5.3" fill="#3a3a3a" style="stroke-width:0"><tspan font-style="italic">Lama4</tspan><tspan font-size="3.7" dy="-1.8">–/–</tspan><tspan dy="1.8"> (n = 10)</tspan></text>
<text x="368.20" y="590.50" font-size="11.8" fill="#000" font-weight="bold">N</text>
<text x="456.30" y="592.00" font-size="8.6" text-anchor="middle" textLength="101.2" lengthAdjust="spacingAndGlyphs">AML burden at the endpoint</text>
<line x1="406.90" y1="597.00" x2="505.40" y2="597.00" stroke="#555" stroke-width="1.2"/>
<line x1="403.80" y1="607.30" x2="403.80" y2="668.75" stroke="#231f20" stroke-width="1.5"/>
<line x1="400.60" y1="608.50" x2="403.80" y2="608.50" stroke="#231f20" stroke-width="1"/>
<text x="397.30" y="611.44" font-size="8.4" text-anchor="end" textLength="11.84" lengthAdjust="spacingAndGlyphs">100</text>
<line x1="400.60" y1="620.40" x2="403.80" y2="620.40" stroke="#231f20" stroke-width="1"/>
<text x="397.30" y="623.34" font-size="8.4" text-anchor="end" textLength="7.90" lengthAdjust="spacingAndGlyphs">80</text>
<line x1="400.60" y1="632.30" x2="403.80" y2="632.30" stroke="#231f20" stroke-width="1"/>
<text x="397.30" y="635.24" font-size="8.4" text-anchor="end" textLength="7.90" lengthAdjust="spacingAndGlyphs">60</text>
<line x1="400.60" y1="644.20" x2="403.80" y2="644.20" stroke="#231f20" stroke-width="1"/>
<text x="397.30" y="647.14" font-size="8.4" text-anchor="end" textLength="7.90" lengthAdjust="spacingAndGlyphs">40</text>
<line x1="400.60" y1="656.10" x2="403.80" y2="656.10" stroke="#231f20" stroke-width="1"/>
<text x="397.30" y="659.04" font-size="8.4" text-anchor="end" textLength="7.90" lengthAdjust="spacingAndGlyphs">20</text>
<line x1="400.60" y1="668.00" x2="403.80" y2="668.00" stroke="#231f20" stroke-width="1"/>
<text x="397.30" y="670.94" font-size="8.4" text-anchor="end" textLength="3.95" lengthAdjust="spacingAndGlyphs">0</text>
<line x1="403.05" y1="668.00" x2="450.00" y2="668.00" stroke="#231f20" stroke-width="1.5"/>
<line x1="415.50" y1="668.00" x2="415.50" y2="671.00" stroke="#231f20" stroke-width="1"/>
<line x1="439.40" y1="668.00" x2="439.40" y2="671.00" stroke="#231f20" stroke-width="1"/>
<line x1="466.90" y1="606.80" x2="466.90" y2="668.65" stroke="#231f20" stroke-width="1.3"/>
<line x1="463.70" y1="608.50" x2="466.90" y2="608.50" stroke="#231f20" stroke-width="1"/>
<text x="462.30" y="611.44" font-size="8.4" text-anchor="end" textLength="12.43" lengthAdjust="spacingAndGlyphs">100</text>
<line x1="463.70" y1="620.40" x2="466.90" y2="620.40" stroke="#231f20" stroke-width="1"/>
<text x="462.30" y="623.34" font-size="8.4" text-anchor="end" textLength="8.28" lengthAdjust="spacingAndGlyphs">80</text>
<line x1="463.70" y1="632.30" x2="466.90" y2="632.30" stroke="#231f20" stroke-width="1"/>
<text x="462.30" y="635.24" font-size="8.4" text-anchor="end" textLength="8.28" lengthAdjust="spacingAndGlyphs">60</text>
<line x1="463.70" y1="644.20" x2="466.90" y2="644.20" stroke="#231f20" stroke-width="1"/>
<text x="462.30" y="647.14" font-size="8.4" text-anchor="end" textLength="8.28" lengthAdjust="spacingAndGlyphs">40</text>
<line x1="463.70" y1="656.10" x2="466.90" y2="656.10" stroke="#231f20" stroke-width="1"/>
<text x="462.30" y="659.04" font-size="8.4" text-anchor="end" textLength="8.28" lengthAdjust="spacingAndGlyphs">20</text>
<line x1="463.70" y1="668.00" x2="466.90" y2="668.00" stroke="#231f20" stroke-width="1"/>
<text x="462.30" y="670.94" font-size="8.4" text-anchor="end" textLength="4.14" lengthAdjust="spacingAndGlyphs">0</text>
<line x1="466.15" y1="668.00" x2="512.30" y2="668.00" stroke="#231f20" stroke-width="1.5"/>
<line x1="478.40" y1="668.00" x2="478.40" y2="671.00" stroke="#231f20" stroke-width="1"/>
<line x1="501.90" y1="668.00" x2="501.90" y2="671.00" stroke="#231f20" stroke-width="1"/>
<text x="429.80" y="609.60" font-size="8.21" textLength="11.39" lengthAdjust="spacingAndGlyphs" text-anchor="middle">BM</text>
<text x="480.10" y="609.60" font-size="8.21" textLength="10.14" lengthAdjust="spacingAndGlyphs" text-anchor="middle">PB</text>
<text x="373.40" y="642.10" font-size="8.8" text-anchor="middle" textLength="60.6" lengthAdjust="spacingAndGlyphs" transform="rotate(-90 373.40 642.10)">% CD45.1<tspan font-size="5.8" dy="-3">+</tspan><tspan dy="3"> AML of</tspan></text>
<text x="385.00" y="642.10" font-size="8.8" text-anchor="middle" textLength="44.8" lengthAdjust="spacingAndGlyphs" transform="rotate(-90 385.00 642.10)">total live cells</text>
<circle cx="412.30" cy="622.20" r="1.45" fill="#c8102e"/>
<circle cx="419.20" cy="619.90" r="1.45" fill="#c8102e"/>
<line x1="407.70" y1="620.80" x2="423.80" y2="620.80" stroke="#c8102e" stroke-width="1.3"/>
<rect x="430.75" y="623.45" width="3.1" height="3.1" fill="#19508f"/>
<rect x="437.65" y="620.65" width="3.1" height="3.1" fill="#19508f"/>
<rect x="443.05" y="622.35" width="3.1" height="3.1" fill="#19508f"/>
<line x1="430.80" y1="623.20" x2="445.70" y2="623.20" stroke="#19508f" stroke-width="1.3"/>
<circle cx="474.20" cy="655.30" r="1.45" fill="#c8102e"/>
<circle cx="480.80" cy="655.30" r="1.45" fill="#c8102e"/>
<line x1="470.00" y1="655.30" x2="485.80" y2="655.30" stroke="#c8102e" stroke-width="1.3"/>
<rect x="498.15" y="626.95" width="3.1" height="3.1" fill="#19508f"/>
<rect x="498.15" y="641.15" width="3.1" height="3.1" fill="#19508f"/>
<rect x="498.15" y="646.85" width="3.1" height="3.1" fill="#19508f"/>
<rect x="494.65" y="652.65" width="3.1" height="3.1" fill="#19508f"/>
<rect x="501.55" y="653.75" width="3.1" height="3.1" fill="#19508f"/>
<rect x="494.65" y="656.85" width="3.1" height="3.1" fill="#19508f"/>
<line x1="492.00" y1="648.00" x2="507.70" y2="648.00" stroke="#19508f" stroke-width="1.3"/>
<text x="419.50" y="677.00" font-size="7.9" text-anchor="end" transform="rotate(-45 419.50 677.00)">Lama4<tspan font-size="5.53" dy="-3.56">+/+</tspan></text>
<text x="443.40" y="677.00" font-size="7.9" text-anchor="end" transform="rotate(-45 443.40 677.00)">Lama4<tspan font-size="5.53" dy="-3.56">–/–</tspan></text>
<text x="482.40" y="677.00" font-size="7.9" text-anchor="end" transform="rotate(-45 482.40 677.00)">Lama4<tspan font-size="5.53" dy="-3.56">+/+</tspan></text>
<text x="505.90" y="677.00" font-size="7.9" text-anchor="end" transform="rotate(-45 505.90 677.00)">Lama4<tspan font-size="5.53" dy="-3.56">–/–</tspan></text>
</svg>
<div class="frame"></div>
</body></html>
